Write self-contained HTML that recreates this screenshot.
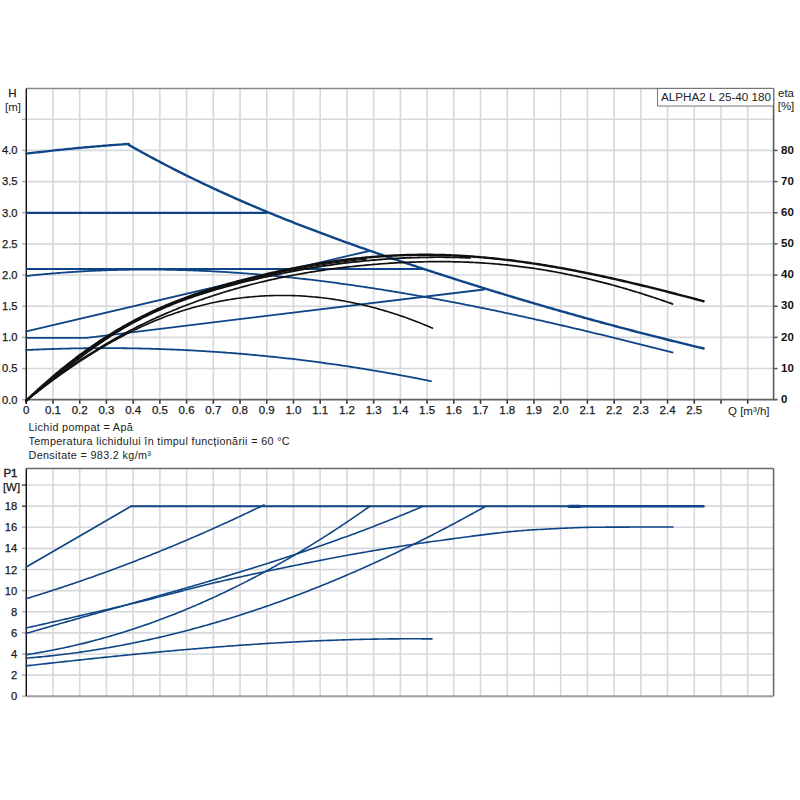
<!DOCTYPE html>
<html><head><meta charset="utf-8"><style>
html,body{margin:0;padding:0;background:#fff;}
svg{display:block;font-family:"Liberation Sans",sans-serif;}
</style></head><body>
<svg width="800" height="800" viewBox="0 0 800 800">
<rect width="800" height="800" fill="#fff"/>
<line x1="53.00" y1="88.50" x2="53.00" y2="399.70" stroke="#d6d8dc" stroke-width="1.6" stroke-linecap="butt"/>
<line x1="79.72" y1="88.50" x2="79.72" y2="399.70" stroke="#d6d8dc" stroke-width="1.6" stroke-linecap="butt"/>
<line x1="106.44" y1="88.50" x2="106.44" y2="399.70" stroke="#d6d8dc" stroke-width="1.6" stroke-linecap="butt"/>
<line x1="133.16" y1="88.50" x2="133.16" y2="399.70" stroke="#d6d8dc" stroke-width="1.6" stroke-linecap="butt"/>
<line x1="159.88" y1="88.50" x2="159.88" y2="399.70" stroke="#d6d8dc" stroke-width="1.6" stroke-linecap="butt"/>
<line x1="186.60" y1="88.50" x2="186.60" y2="399.70" stroke="#d6d8dc" stroke-width="1.6" stroke-linecap="butt"/>
<line x1="213.32" y1="88.50" x2="213.32" y2="399.70" stroke="#d6d8dc" stroke-width="1.6" stroke-linecap="butt"/>
<line x1="240.04" y1="88.50" x2="240.04" y2="399.70" stroke="#d6d8dc" stroke-width="1.6" stroke-linecap="butt"/>
<line x1="266.76" y1="88.50" x2="266.76" y2="399.70" stroke="#d6d8dc" stroke-width="1.6" stroke-linecap="butt"/>
<line x1="293.48" y1="88.50" x2="293.48" y2="399.70" stroke="#d6d8dc" stroke-width="1.6" stroke-linecap="butt"/>
<line x1="320.20" y1="88.50" x2="320.20" y2="399.70" stroke="#d6d8dc" stroke-width="1.6" stroke-linecap="butt"/>
<line x1="346.92" y1="88.50" x2="346.92" y2="399.70" stroke="#d6d8dc" stroke-width="1.6" stroke-linecap="butt"/>
<line x1="373.64" y1="88.50" x2="373.64" y2="399.70" stroke="#d6d8dc" stroke-width="1.6" stroke-linecap="butt"/>
<line x1="400.36" y1="88.50" x2="400.36" y2="399.70" stroke="#d6d8dc" stroke-width="1.6" stroke-linecap="butt"/>
<line x1="427.08" y1="88.50" x2="427.08" y2="399.70" stroke="#d6d8dc" stroke-width="1.6" stroke-linecap="butt"/>
<line x1="453.80" y1="88.50" x2="453.80" y2="399.70" stroke="#d6d8dc" stroke-width="1.6" stroke-linecap="butt"/>
<line x1="480.52" y1="88.50" x2="480.52" y2="399.70" stroke="#d6d8dc" stroke-width="1.6" stroke-linecap="butt"/>
<line x1="507.24" y1="88.50" x2="507.24" y2="399.70" stroke="#d6d8dc" stroke-width="1.6" stroke-linecap="butt"/>
<line x1="533.96" y1="88.50" x2="533.96" y2="399.70" stroke="#d6d8dc" stroke-width="1.6" stroke-linecap="butt"/>
<line x1="560.68" y1="88.50" x2="560.68" y2="399.70" stroke="#d6d8dc" stroke-width="1.6" stroke-linecap="butt"/>
<line x1="587.40" y1="88.50" x2="587.40" y2="399.70" stroke="#d6d8dc" stroke-width="1.6" stroke-linecap="butt"/>
<line x1="614.12" y1="88.50" x2="614.12" y2="399.70" stroke="#d6d8dc" stroke-width="1.6" stroke-linecap="butt"/>
<line x1="640.84" y1="88.50" x2="640.84" y2="399.70" stroke="#d6d8dc" stroke-width="1.6" stroke-linecap="butt"/>
<line x1="667.56" y1="88.50" x2="667.56" y2="399.70" stroke="#d6d8dc" stroke-width="1.6" stroke-linecap="butt"/>
<line x1="694.28" y1="88.50" x2="694.28" y2="399.70" stroke="#d6d8dc" stroke-width="1.6" stroke-linecap="butt"/>
<line x1="721.00" y1="88.50" x2="721.00" y2="399.70" stroke="#d6d8dc" stroke-width="1.6" stroke-linecap="butt"/>
<line x1="747.72" y1="88.50" x2="747.72" y2="399.70" stroke="#d6d8dc" stroke-width="1.6" stroke-linecap="butt"/>
<line x1="26.28" y1="368.54" x2="773.60" y2="368.54" stroke="#d6d8dc" stroke-width="1.6" stroke-linecap="butt"/>
<line x1="26.28" y1="337.38" x2="773.60" y2="337.38" stroke="#d6d8dc" stroke-width="1.6" stroke-linecap="butt"/>
<line x1="26.28" y1="306.22" x2="773.60" y2="306.22" stroke="#d6d8dc" stroke-width="1.6" stroke-linecap="butt"/>
<line x1="26.28" y1="275.06" x2="773.60" y2="275.06" stroke="#d6d8dc" stroke-width="1.6" stroke-linecap="butt"/>
<line x1="26.28" y1="243.90" x2="773.60" y2="243.90" stroke="#d6d8dc" stroke-width="1.6" stroke-linecap="butt"/>
<line x1="26.28" y1="212.74" x2="773.60" y2="212.74" stroke="#d6d8dc" stroke-width="1.6" stroke-linecap="butt"/>
<line x1="26.28" y1="181.58" x2="773.60" y2="181.58" stroke="#d6d8dc" stroke-width="1.6" stroke-linecap="butt"/>
<line x1="26.28" y1="150.42" x2="773.60" y2="150.42" stroke="#d6d8dc" stroke-width="1.6" stroke-linecap="butt"/>
<line x1="26.28" y1="119.26" x2="773.60" y2="119.26" stroke="#d6d8dc" stroke-width="1.6" stroke-linecap="butt"/>
<line x1="22.00" y1="368.54" x2="26.28" y2="368.54" stroke="#aaa" stroke-width="1.3" stroke-linecap="butt"/>
<line x1="22.00" y1="337.38" x2="26.28" y2="337.38" stroke="#aaa" stroke-width="1.3" stroke-linecap="butt"/>
<line x1="22.00" y1="306.22" x2="26.28" y2="306.22" stroke="#aaa" stroke-width="1.3" stroke-linecap="butt"/>
<line x1="22.00" y1="275.06" x2="26.28" y2="275.06" stroke="#aaa" stroke-width="1.3" stroke-linecap="butt"/>
<line x1="22.00" y1="243.90" x2="26.28" y2="243.90" stroke="#aaa" stroke-width="1.3" stroke-linecap="butt"/>
<line x1="22.00" y1="212.74" x2="26.28" y2="212.74" stroke="#aaa" stroke-width="1.3" stroke-linecap="butt"/>
<line x1="22.00" y1="181.58" x2="26.28" y2="181.58" stroke="#aaa" stroke-width="1.3" stroke-linecap="butt"/>
<line x1="22.00" y1="150.42" x2="26.28" y2="150.42" stroke="#aaa" stroke-width="1.3" stroke-linecap="butt"/>
<line x1="22.00" y1="119.26" x2="26.28" y2="119.26" stroke="#aaa" stroke-width="1.3" stroke-linecap="butt"/>
<line x1="773.60" y1="368.54" x2="777.60" y2="368.54" stroke="#555" stroke-width="1.5" stroke-linecap="butt"/>
<line x1="773.60" y1="337.38" x2="777.60" y2="337.38" stroke="#555" stroke-width="1.5" stroke-linecap="butt"/>
<line x1="773.60" y1="306.22" x2="777.60" y2="306.22" stroke="#555" stroke-width="1.5" stroke-linecap="butt"/>
<line x1="773.60" y1="275.06" x2="777.60" y2="275.06" stroke="#555" stroke-width="1.5" stroke-linecap="butt"/>
<line x1="773.60" y1="243.90" x2="777.60" y2="243.90" stroke="#555" stroke-width="1.5" stroke-linecap="butt"/>
<line x1="773.60" y1="212.74" x2="777.60" y2="212.74" stroke="#555" stroke-width="1.5" stroke-linecap="butt"/>
<line x1="773.60" y1="181.58" x2="777.60" y2="181.58" stroke="#555" stroke-width="1.5" stroke-linecap="butt"/>
<line x1="773.60" y1="150.42" x2="777.60" y2="150.42" stroke="#555" stroke-width="1.5" stroke-linecap="butt"/>
<line x1="26.28" y1="399.70" x2="26.28" y2="403.70" stroke="#333" stroke-width="1.6" stroke-linecap="butt"/>
<line x1="53.00" y1="399.70" x2="53.00" y2="403.70" stroke="#333" stroke-width="1.6" stroke-linecap="butt"/>
<line x1="79.72" y1="399.70" x2="79.72" y2="403.70" stroke="#333" stroke-width="1.6" stroke-linecap="butt"/>
<line x1="106.44" y1="399.70" x2="106.44" y2="403.70" stroke="#333" stroke-width="1.6" stroke-linecap="butt"/>
<line x1="133.16" y1="399.70" x2="133.16" y2="403.70" stroke="#333" stroke-width="1.6" stroke-linecap="butt"/>
<line x1="159.88" y1="399.70" x2="159.88" y2="403.70" stroke="#333" stroke-width="1.6" stroke-linecap="butt"/>
<line x1="186.60" y1="399.70" x2="186.60" y2="403.70" stroke="#333" stroke-width="1.6" stroke-linecap="butt"/>
<line x1="213.32" y1="399.70" x2="213.32" y2="403.70" stroke="#333" stroke-width="1.6" stroke-linecap="butt"/>
<line x1="240.04" y1="399.70" x2="240.04" y2="403.70" stroke="#333" stroke-width="1.6" stroke-linecap="butt"/>
<line x1="266.76" y1="399.70" x2="266.76" y2="403.70" stroke="#333" stroke-width="1.6" stroke-linecap="butt"/>
<line x1="293.48" y1="399.70" x2="293.48" y2="403.70" stroke="#333" stroke-width="1.6" stroke-linecap="butt"/>
<line x1="320.20" y1="399.70" x2="320.20" y2="403.70" stroke="#333" stroke-width="1.6" stroke-linecap="butt"/>
<line x1="346.92" y1="399.70" x2="346.92" y2="403.70" stroke="#333" stroke-width="1.6" stroke-linecap="butt"/>
<line x1="373.64" y1="399.70" x2="373.64" y2="403.70" stroke="#333" stroke-width="1.6" stroke-linecap="butt"/>
<line x1="400.36" y1="399.70" x2="400.36" y2="403.70" stroke="#333" stroke-width="1.6" stroke-linecap="butt"/>
<line x1="427.08" y1="399.70" x2="427.08" y2="403.70" stroke="#333" stroke-width="1.6" stroke-linecap="butt"/>
<line x1="453.80" y1="399.70" x2="453.80" y2="403.70" stroke="#333" stroke-width="1.6" stroke-linecap="butt"/>
<line x1="480.52" y1="399.70" x2="480.52" y2="403.70" stroke="#333" stroke-width="1.6" stroke-linecap="butt"/>
<line x1="507.24" y1="399.70" x2="507.24" y2="403.70" stroke="#333" stroke-width="1.6" stroke-linecap="butt"/>
<line x1="533.96" y1="399.70" x2="533.96" y2="403.70" stroke="#333" stroke-width="1.6" stroke-linecap="butt"/>
<line x1="560.68" y1="399.70" x2="560.68" y2="403.70" stroke="#333" stroke-width="1.6" stroke-linecap="butt"/>
<line x1="587.40" y1="399.70" x2="587.40" y2="403.70" stroke="#333" stroke-width="1.6" stroke-linecap="butt"/>
<line x1="614.12" y1="399.70" x2="614.12" y2="403.70" stroke="#333" stroke-width="1.6" stroke-linecap="butt"/>
<line x1="640.84" y1="399.70" x2="640.84" y2="403.70" stroke="#333" stroke-width="1.6" stroke-linecap="butt"/>
<line x1="667.56" y1="399.70" x2="667.56" y2="403.70" stroke="#333" stroke-width="1.6" stroke-linecap="butt"/>
<line x1="694.28" y1="399.70" x2="694.28" y2="403.70" stroke="#333" stroke-width="1.6" stroke-linecap="butt"/>
<line x1="721.00" y1="399.70" x2="721.00" y2="403.70" stroke="#333" stroke-width="1.6" stroke-linecap="butt"/>
<line x1="747.72" y1="399.70" x2="747.72" y2="403.70" stroke="#333" stroke-width="1.6" stroke-linecap="butt"/>
<line x1="22.00" y1="399.70" x2="26.28" y2="399.70" stroke="#aaa" stroke-width="1.3" stroke-linecap="butt"/>
<line x1="26.28" y1="88.50" x2="773.60" y2="88.50" stroke="#8a8a8a" stroke-width="1.6" stroke-linecap="butt"/>
<line x1="773.60" y1="88.50" x2="773.60" y2="399.70" stroke="#5a5a5a" stroke-width="1.6" stroke-linecap="butt"/>
<line x1="26.28" y1="399.70" x2="777.60" y2="399.70" stroke="#5f5f5f" stroke-width="1.8" stroke-linecap="butt"/>
<line x1="26.28" y1="88.50" x2="26.28" y2="403.70" stroke="#111" stroke-width="1.4" stroke-linecap="butt"/>
<text x="17.50" y="403.50" text-anchor="end" font-size="11.2" font-weight="normal" fill="#1a1a1a" stroke="#1a1a1a" stroke-width="0.25">0.0</text>
<text x="17.50" y="372.34" text-anchor="end" font-size="11.2" font-weight="normal" fill="#1a1a1a" stroke="#1a1a1a" stroke-width="0.25">0.5</text>
<text x="17.50" y="341.18" text-anchor="end" font-size="11.2" font-weight="normal" fill="#1a1a1a" stroke="#1a1a1a" stroke-width="0.25">1.0</text>
<text x="17.50" y="310.02" text-anchor="end" font-size="11.2" font-weight="normal" fill="#1a1a1a" stroke="#1a1a1a" stroke-width="0.25">1.5</text>
<text x="17.50" y="278.86" text-anchor="end" font-size="11.2" font-weight="normal" fill="#1a1a1a" stroke="#1a1a1a" stroke-width="0.25">2.0</text>
<text x="17.50" y="247.70" text-anchor="end" font-size="11.2" font-weight="normal" fill="#1a1a1a" stroke="#1a1a1a" stroke-width="0.25">2.5</text>
<text x="17.50" y="216.54" text-anchor="end" font-size="11.2" font-weight="normal" fill="#1a1a1a" stroke="#1a1a1a" stroke-width="0.25">3.0</text>
<text x="17.50" y="185.38" text-anchor="end" font-size="11.2" font-weight="normal" fill="#1a1a1a" stroke="#1a1a1a" stroke-width="0.25">3.5</text>
<text x="17.50" y="154.22" text-anchor="end" font-size="11.2" font-weight="normal" fill="#1a1a1a" stroke="#1a1a1a" stroke-width="0.25">4.0</text>
<text x="781.00" y="402.90" text-anchor="start" font-size="11.5" font-weight="bold" fill="#111" >0</text>
<text x="781.00" y="371.74" text-anchor="start" font-size="11.5" font-weight="bold" fill="#111" >10</text>
<text x="781.00" y="340.58" text-anchor="start" font-size="11.5" font-weight="bold" fill="#111" >20</text>
<text x="781.00" y="309.42" text-anchor="start" font-size="11.5" font-weight="bold" fill="#111" >30</text>
<text x="781.00" y="278.26" text-anchor="start" font-size="11.5" font-weight="bold" fill="#111" >40</text>
<text x="781.00" y="247.10" text-anchor="start" font-size="11.5" font-weight="bold" fill="#111" >50</text>
<text x="781.00" y="215.94" text-anchor="start" font-size="11.5" font-weight="bold" fill="#111" >60</text>
<text x="781.00" y="184.78" text-anchor="start" font-size="11.5" font-weight="bold" fill="#111" >70</text>
<text x="781.00" y="153.62" text-anchor="start" font-size="11.5" font-weight="bold" fill="#111" >80</text>
<text x="26.28" y="414.20" text-anchor="middle" font-size="11.5" font-weight="normal" fill="#1a1a1a" stroke="#1a1a1a" stroke-width="0.25">0</text>
<text x="53.00" y="414.20" text-anchor="middle" font-size="11.5" font-weight="normal" fill="#1a1a1a" stroke="#1a1a1a" stroke-width="0.25">0.1</text>
<text x="79.72" y="414.20" text-anchor="middle" font-size="11.5" font-weight="normal" fill="#1a1a1a" stroke="#1a1a1a" stroke-width="0.25">0.2</text>
<text x="106.44" y="414.20" text-anchor="middle" font-size="11.5" font-weight="normal" fill="#1a1a1a" stroke="#1a1a1a" stroke-width="0.25">0.3</text>
<text x="133.16" y="414.20" text-anchor="middle" font-size="11.5" font-weight="normal" fill="#1a1a1a" stroke="#1a1a1a" stroke-width="0.25">0.4</text>
<text x="159.88" y="414.20" text-anchor="middle" font-size="11.5" font-weight="normal" fill="#1a1a1a" stroke="#1a1a1a" stroke-width="0.25">0.5</text>
<text x="186.60" y="414.20" text-anchor="middle" font-size="11.5" font-weight="normal" fill="#1a1a1a" stroke="#1a1a1a" stroke-width="0.25">0.6</text>
<text x="213.32" y="414.20" text-anchor="middle" font-size="11.5" font-weight="normal" fill="#1a1a1a" stroke="#1a1a1a" stroke-width="0.25">0.7</text>
<text x="240.04" y="414.20" text-anchor="middle" font-size="11.5" font-weight="normal" fill="#1a1a1a" stroke="#1a1a1a" stroke-width="0.25">0.8</text>
<text x="266.76" y="414.20" text-anchor="middle" font-size="11.5" font-weight="normal" fill="#1a1a1a" stroke="#1a1a1a" stroke-width="0.25">0.9</text>
<text x="293.48" y="414.20" text-anchor="middle" font-size="11.5" font-weight="normal" fill="#1a1a1a" stroke="#1a1a1a" stroke-width="0.25">1.0</text>
<text x="320.20" y="414.20" text-anchor="middle" font-size="11.5" font-weight="normal" fill="#1a1a1a" stroke="#1a1a1a" stroke-width="0.25">1.1</text>
<text x="346.92" y="414.20" text-anchor="middle" font-size="11.5" font-weight="normal" fill="#1a1a1a" stroke="#1a1a1a" stroke-width="0.25">1.2</text>
<text x="373.64" y="414.20" text-anchor="middle" font-size="11.5" font-weight="normal" fill="#1a1a1a" stroke="#1a1a1a" stroke-width="0.25">1.3</text>
<text x="400.36" y="414.20" text-anchor="middle" font-size="11.5" font-weight="normal" fill="#1a1a1a" stroke="#1a1a1a" stroke-width="0.25">1.4</text>
<text x="427.08" y="414.20" text-anchor="middle" font-size="11.5" font-weight="normal" fill="#1a1a1a" stroke="#1a1a1a" stroke-width="0.25">1.5</text>
<text x="453.80" y="414.20" text-anchor="middle" font-size="11.5" font-weight="normal" fill="#1a1a1a" stroke="#1a1a1a" stroke-width="0.25">1.6</text>
<text x="480.52" y="414.20" text-anchor="middle" font-size="11.5" font-weight="normal" fill="#1a1a1a" stroke="#1a1a1a" stroke-width="0.25">1.7</text>
<text x="507.24" y="414.20" text-anchor="middle" font-size="11.5" font-weight="normal" fill="#1a1a1a" stroke="#1a1a1a" stroke-width="0.25">1.8</text>
<text x="533.96" y="414.20" text-anchor="middle" font-size="11.5" font-weight="normal" fill="#1a1a1a" stroke="#1a1a1a" stroke-width="0.25">1.9</text>
<text x="560.68" y="414.20" text-anchor="middle" font-size="11.5" font-weight="normal" fill="#1a1a1a" stroke="#1a1a1a" stroke-width="0.25">2.0</text>
<text x="587.40" y="414.20" text-anchor="middle" font-size="11.5" font-weight="normal" fill="#1a1a1a" stroke="#1a1a1a" stroke-width="0.25">2.1</text>
<text x="614.12" y="414.20" text-anchor="middle" font-size="11.5" font-weight="normal" fill="#1a1a1a" stroke="#1a1a1a" stroke-width="0.25">2.2</text>
<text x="640.84" y="414.20" text-anchor="middle" font-size="11.5" font-weight="normal" fill="#1a1a1a" stroke="#1a1a1a" stroke-width="0.25">2.3</text>
<text x="667.56" y="414.20" text-anchor="middle" font-size="11.5" font-weight="normal" fill="#1a1a1a" stroke="#1a1a1a" stroke-width="0.25">2.4</text>
<text x="694.28" y="414.20" text-anchor="middle" font-size="11.5" font-weight="normal" fill="#1a1a1a" stroke="#1a1a1a" stroke-width="0.25">2.5</text>
<text x="728.00" y="415.00" text-anchor="start" font-size="11.5" font-weight="normal" fill="#222" >Q [m&#179;/h]</text>
<text x="12.50" y="96.50" text-anchor="middle" font-size="11.5" font-weight="normal" fill="#1a1a1a" stroke="#1a1a1a" stroke-width="0.25">H</text>
<text x="13.00" y="110.50" text-anchor="middle" font-size="11.5" font-weight="normal" fill="#222" >[m]</text>
<text x="786.00" y="96.50" text-anchor="middle" font-size="11.5" font-weight="normal" fill="#222" >eta</text>
<text x="786.00" y="110.00" text-anchor="middle" font-size="11.5" font-weight="normal" fill="#222" >[%]</text>
<rect x="657.5" y="88.5" width="116" height="17.5" fill="#fff" stroke="#777" stroke-width="1"/>
<text x="661.00" y="100.70" text-anchor="start" font-size="11.7" font-weight="normal" fill="#222" >ALPHA2 L 25-40 180</text>
<path d="M26.28 153.69 L28.28 153.44 L30.28 153.19 L32.28 152.95 L34.28 152.71 L36.28 152.48 L38.28 152.24 L40.28 152.01 L42.28 151.78 L44.28 151.55 L46.28 151.32 L48.28 151.10 L50.28 150.88 L52.28 150.66 L54.28 150.44 L56.28 150.22 L58.28 150.01 L60.28 149.80 L62.28 149.59 L64.28 149.39 L66.28 149.18 L68.28 148.98 L70.28 148.78 L72.28 148.59 L74.28 148.39 L76.28 148.20 L78.28 148.01 L80.28 147.82 L82.28 147.64 L84.28 147.45 L86.28 147.27 L88.28 147.09 L90.28 146.91 L92.28 146.74 L94.28 146.57 L96.28 146.40 L98.28 146.23 L100.28 146.07 L102.28 145.90 L104.28 145.74 L106.28 145.58 L108.28 145.43 L110.28 145.27 L112.28 145.12 L114.28 144.97 L116.28 144.82 L118.28 144.68 L120.28 144.53 L122.28 144.39 L124.28 144.26 L126.28 144.12 L128.28 143.99 L128.75 143.95" fill="none" stroke="#0f4586" stroke-width="2.3" stroke-linejoin="round" stroke-linecap="round"/>
<path d="M128.75 144.88 L130.75 146.01 L132.75 147.14 L134.75 148.26 L136.75 149.38 L138.75 150.49 L140.75 151.59 L142.75 152.69 L144.75 153.78 L146.75 154.87 L148.75 155.96 L150.75 157.03 L152.75 158.11 L154.75 159.17 L156.75 160.24 L158.75 161.30 L160.75 162.35 L162.75 163.40 L164.75 164.44 L166.75 165.48 L168.75 166.51 L170.75 167.54 L172.75 168.56 L174.75 169.58 L176.75 170.59 L178.75 171.60 L180.75 172.60 L182.75 173.60 L184.75 174.60 L186.75 175.59 L188.75 176.57 L190.75 177.55 L192.75 178.53 L194.75 179.50 L196.75 180.47 L198.75 181.43 L200.75 182.39 L202.75 183.35 L204.75 184.30 L206.75 185.24 L208.75 186.18 L210.75 187.12 L212.75 188.05 L214.75 188.98 L216.75 189.90 L218.75 190.82 L220.75 191.74 L222.75 192.65 L224.75 193.56 L226.75 194.46 L228.75 195.36 L230.75 196.26 L232.75 197.15 L234.75 198.04 L236.75 198.92 L238.75 199.80 L240.75 200.68 L242.75 201.55 L244.75 202.42 L246.75 203.29 L248.75 204.15 L250.75 205.01 L252.75 205.86 L254.75 206.71 L256.75 207.56 L258.75 208.40 L260.75 209.24 L262.75 210.08 L264.75 210.91 L266.75 211.74 L268.75 212.57 L270.75 213.39 L272.75 214.21 L274.75 215.03 L276.75 215.84 L278.75 216.65 L280.75 217.46 L282.75 218.27 L284.75 219.07 L286.75 219.87 L288.75 220.66 L290.75 221.45 L292.75 222.24 L294.75 223.03 L296.75 223.81 L298.75 224.59 L300.75 225.37 L302.75 226.14 L304.75 226.91 L306.75 227.68 L308.75 228.45 L310.75 229.21 L312.75 229.97 L314.75 230.73 L316.75 231.49 L318.75 232.24 L320.75 232.99 L322.75 233.74 L324.75 234.48 L326.75 235.23 L328.75 235.97 L330.75 236.70 L332.75 237.44 L334.75 238.17 L336.75 238.90 L338.75 239.63 L340.75 240.36 L342.75 241.09 L344.75 241.81 L346.75 242.53 L348.75 243.25 L350.75 243.96 L352.75 244.68 L354.75 245.39 L356.75 246.10 L358.75 246.81 L360.75 247.51 L362.75 248.22 L364.75 248.92 L366.75 249.62 L368.75 250.32 L370.75 251.01 L372.75 251.71 L374.75 252.40 L376.75 253.09 L378.75 253.79 L380.75 254.47 L382.75 255.16 L384.75 255.85 L386.75 256.53 L388.75 257.21 L390.75 257.89 L392.75 258.57 L394.75 259.25 L396.75 259.93 L398.75 260.60 L400.75 261.28 L402.75 261.95 L404.75 262.62 L406.75 263.29 L408.75 263.96 L410.75 264.63 L412.75 265.30 L414.75 265.96 L416.75 266.63 L418.75 267.29 L420.75 267.95 L422.75 268.61 L424.75 269.27 L426.75 269.93 L428.75 270.58 L430.75 271.24 L432.75 271.89 L434.75 272.55 L436.75 273.20 L438.75 273.85 L440.75 274.50 L442.75 275.14 L444.75 275.79 L446.75 276.43 L448.75 277.08 L450.75 277.72 L452.75 278.36 L454.75 279.00 L456.75 279.64 L458.75 280.28 L460.75 280.91 L462.75 281.55 L464.75 282.18 L466.75 282.81 L468.75 283.44 L470.75 284.07 L472.75 284.70 L474.75 285.33 L476.75 285.95 L478.75 286.58 L480.75 287.20 L482.75 287.82 L484.75 288.44 L486.75 289.06 L488.75 289.68 L490.75 290.30 L492.75 290.91 L494.75 291.53 L496.75 292.14 L498.75 292.75 L500.75 293.36 L502.75 293.97 L504.75 294.58 L506.75 295.18 L508.75 295.79 L510.75 296.39 L512.75 297.00 L514.75 297.60 L516.75 298.20 L518.75 298.80 L520.75 299.39 L522.75 299.99 L524.75 300.58 L526.75 301.18 L528.75 301.77 L530.75 302.36 L532.75 302.95 L534.75 303.54 L536.75 304.12 L538.75 304.71 L540.75 305.29 L542.75 305.88 L544.75 306.46 L546.75 307.04 L548.75 307.62 L550.75 308.20 L552.75 308.77 L554.75 309.35 L556.75 309.92 L558.75 310.49 L560.75 311.06 L562.75 311.63 L564.75 312.20 L566.75 312.77 L568.75 313.34 L570.75 313.90 L572.75 314.47 L574.75 315.03 L576.75 315.59 L578.75 316.15 L580.75 316.71 L582.75 317.26 L584.75 317.82 L586.75 318.37 L588.75 318.93 L590.75 319.48 L592.75 320.03 L594.75 320.58 L596.75 321.12 L598.75 321.67 L600.75 322.22 L602.75 322.76 L604.75 323.30 L606.75 323.84 L608.75 324.38 L610.75 324.92 L612.75 325.46 L614.75 326.00 L616.75 326.53 L618.75 327.06 L620.75 327.60 L622.75 328.13 L624.75 328.66 L626.75 329.18 L628.75 329.71 L630.75 330.24 L632.75 330.76 L634.75 331.28 L636.75 331.80 L638.75 332.32 L640.75 332.84 L642.75 333.36 L644.75 333.88 L646.75 334.39 L648.75 334.90 L650.75 335.42 L652.75 335.93 L654.75 336.44 L656.75 336.95 L658.75 337.45 L660.75 337.96 L662.75 338.46 L664.75 338.97 L666.75 339.47 L668.75 339.97 L670.75 340.47 L672.75 340.96 L674.75 341.46 L676.75 341.96 L678.75 342.45 L680.75 342.94 L682.75 343.43 L684.75 343.92 L686.75 344.41 L688.75 344.90 L690.75 345.38 L692.75 345.87 L694.75 346.35 L696.75 346.83 L698.75 347.31 L700.75 347.79 L702.75 348.27 L703.60 348.47" fill="none" stroke="#0f4586" stroke-width="2.4" stroke-linejoin="round" stroke-linecap="round"/>
<line x1="26.28" y1="212.90" x2="267.10" y2="212.90" stroke="#0f4586" stroke-width="2.2" stroke-linecap="butt"/>
<line x1="26.28" y1="269.00" x2="423.00" y2="269.00" stroke="#0f4586" stroke-width="2.1" stroke-linecap="butt"/>
<path d="M26.28 275.99 L28.28 275.78 L30.28 275.56 L32.28 275.36 L34.28 275.15 L36.28 274.95 L38.28 274.75 L40.28 274.56 L42.28 274.37 L44.28 274.18 L46.28 274.00 L48.28 273.82 L50.28 273.65 L52.28 273.48 L54.28 273.31 L56.28 273.15 L58.28 272.99 L60.28 272.83 L62.28 272.68 L64.28 272.54 L66.28 272.39 L68.28 272.25 L70.28 272.11 L72.28 271.98 L74.28 271.85 L76.28 271.73 L78.28 271.61 L80.28 271.49 L82.28 271.37 L84.28 271.26 L86.28 271.16 L88.28 271.05 L90.28 270.95 L92.28 270.86 L94.28 270.76 L96.28 270.67 L98.28 270.59 L100.28 270.51 L102.28 270.43 L104.28 270.35 L106.28 270.28 L108.28 270.22 L110.28 270.15 L112.28 270.09 L114.28 270.03 L116.28 269.98 L118.28 269.93 L120.28 269.88 L122.28 269.84 L124.28 269.80 L126.28 269.76 L128.28 269.73 L130.28 269.70 L132.28 269.68 L134.28 269.65 L136.28 269.63 L138.28 269.62 L140.28 269.61 L142.28 269.60 L144.28 269.59 L146.28 269.59 L148.28 269.59 L150.28 269.59 L152.28 269.60 L154.28 269.61 L156.28 269.62 L158.28 269.64 L160.28 269.66 L162.28 269.69 L164.28 269.71 L166.28 269.74 L168.28 269.78 L170.28 269.81 L172.28 269.85 L174.28 269.90 L176.28 269.94 L178.28 269.99 L180.28 270.04 L182.28 270.10 L184.28 270.16 L186.28 270.22 L188.28 270.28 L190.28 270.35 L192.28 270.42 L194.28 270.50 L196.28 270.57 L198.28 270.65 L200.28 270.74 L202.28 270.82 L204.28 270.91 L206.28 271.01 L208.28 271.10 L210.28 271.20 L212.28 271.30 L214.28 271.41 L216.28 271.51 L218.28 271.62 L220.28 271.74 L222.28 271.85 L224.28 271.97 L226.28 272.09 L228.28 272.22 L230.28 272.35 L232.28 272.48 L234.28 272.61 L236.28 272.75 L238.28 272.89 L240.28 273.03 L242.28 273.17 L244.28 273.32 L246.28 273.47 L248.28 273.63 L250.28 273.78 L252.28 273.94 L254.28 274.10 L256.28 274.27 L258.28 274.43 L260.28 274.60 L262.28 274.78 L264.28 274.95 L266.28 275.13 L268.28 275.31 L270.28 275.49 L272.28 275.68 L274.28 275.87 L276.28 276.06 L278.28 276.25 L280.28 276.45 L282.28 276.65 L284.28 276.85 L286.28 277.06 L288.28 277.26 L290.28 277.47 L292.28 277.69 L294.28 277.90 L296.28 278.12 L298.28 278.34 L300.28 278.56 L302.28 278.79 L304.28 279.01 L306.28 279.24 L308.28 279.48 L310.28 279.71 L312.28 279.95 L314.28 280.19 L316.28 280.43 L318.28 280.67 L320.28 280.92 L322.28 281.17 L324.28 281.42 L326.28 281.68 L328.28 281.93 L330.28 282.19 L332.28 282.45 L334.28 282.72 L336.28 282.98 L338.28 283.25 L340.28 283.52 L342.28 283.79 L344.28 284.07 L346.28 284.35 L348.28 284.63 L350.28 284.91 L352.28 285.19 L354.28 285.48 L356.28 285.77 L358.28 286.06 L360.28 286.35 L362.28 286.65 L364.28 286.95 L366.28 287.25 L368.28 287.55 L370.28 287.85 L372.28 288.16 L374.28 288.47 L376.28 288.78 L378.28 289.09 L380.28 289.40 L382.28 289.72 L384.28 290.04 L386.28 290.36 L388.28 290.68 L390.28 291.01 L392.28 291.34 L394.28 291.67 L396.28 292.00 L398.28 292.33 L400.28 292.67 L402.28 293.00 L404.28 293.34 L406.28 293.68 L408.28 294.03 L410.28 294.37 L412.28 294.72 L414.28 295.07 L416.28 295.42 L418.28 295.77 L420.28 296.13 L422.28 296.48 L424.28 296.84 L426.28 297.20 L428.28 297.56 L430.28 297.93 L432.28 298.29 L434.28 298.66 L436.28 299.03 L438.28 299.40 L440.28 299.77 L442.28 300.15 L444.28 300.52 L446.28 300.90 L448.28 301.28 L450.28 301.67 L452.28 302.05 L454.28 302.43 L456.28 302.82 L458.28 303.21 L460.28 303.60 L462.28 303.99 L464.28 304.39 L466.28 304.78 L468.28 305.18 L470.28 305.58 L472.28 305.98 L474.28 306.38 L476.28 306.78 L478.28 307.19 L480.28 307.59 L482.28 308.00 L484.28 308.41 L486.28 308.82 L488.28 309.24 L490.28 309.65 L492.28 310.07 L494.28 310.48 L496.28 310.90 L498.28 311.32 L500.28 311.74 L502.28 312.17 L504.28 312.59 L506.28 313.02 L508.28 313.45 L510.28 313.88 L512.28 314.31 L514.28 314.74 L516.28 315.17 L518.28 315.61 L520.28 316.04 L522.28 316.48 L524.28 316.92 L526.28 317.36 L528.28 317.80 L530.28 318.24 L532.28 318.69 L534.28 319.13 L536.28 319.58 L538.28 320.03 L540.28 320.48 L542.28 320.93 L544.28 321.38 L546.28 321.83 L548.28 322.28 L550.28 322.74 L552.28 323.20 L554.28 323.65 L556.28 324.11 L558.28 324.57 L560.28 325.03 L562.28 325.50 L564.28 325.96 L566.28 326.43 L568.28 326.89 L570.28 327.36 L572.28 327.83 L574.28 328.30 L576.28 328.77 L578.28 329.24 L580.28 329.71 L582.28 330.18 L584.28 330.66 L586.28 331.13 L588.28 331.61 L590.28 332.09 L592.28 332.56 L594.28 333.04 L596.28 333.52 L598.28 334.01 L600.28 334.49 L602.28 334.97 L604.28 335.46 L606.28 335.94 L608.28 336.43 L610.28 336.91 L612.28 337.40 L614.28 337.89 L616.28 338.38 L618.28 338.87 L620.28 339.36 L622.28 339.85 L624.28 340.35 L626.28 340.84 L628.28 341.34 L630.28 341.83 L632.28 342.33 L634.28 342.82 L636.28 343.32 L638.28 343.82 L640.28 344.32 L642.28 344.82 L644.28 345.32 L646.28 345.82 L648.28 346.32 L650.28 346.83 L652.28 347.33 L654.28 347.83 L656.28 348.34 L658.28 348.84 L660.28 349.35 L662.28 349.86 L664.28 350.36 L666.28 350.87 L668.28 351.38 L670.28 351.89 L672.28 352.40 L672.60 352.48" fill="none" stroke="#0f4586" stroke-width="1.8" stroke-linejoin="round" stroke-linecap="round"/>
<line x1="26.28" y1="331.30" x2="369.00" y2="251.00" stroke="#0f4586" stroke-width="1.8" stroke-linecap="round"/>
<path d="M26.28 337.8 L86.5 337.8 L484 289.5" fill="none" stroke="#0f4586" stroke-width="1.8" stroke-linejoin="round" stroke-linecap="round"/>
<path d="M26.28 350.03 L28.28 349.94 L30.28 349.85 L32.28 349.75 L34.28 349.67 L36.28 349.58 L38.28 349.50 L40.28 349.42 L42.28 349.34 L44.28 349.26 L46.28 349.19 L48.28 349.12 L50.28 349.05 L52.28 348.99 L54.28 348.92 L56.28 348.86 L58.28 348.80 L60.28 348.75 L62.28 348.69 L64.28 348.64 L66.28 348.59 L68.28 348.55 L70.28 348.50 L72.28 348.46 L74.28 348.42 L76.28 348.39 L78.28 348.35 L80.28 348.32 L82.28 348.29 L84.28 348.26 L86.28 348.24 L88.28 348.22 L90.28 348.20 L92.28 348.18 L94.28 348.17 L96.28 348.15 L98.28 348.14 L100.28 348.14 L102.28 348.13 L104.28 348.13 L106.28 348.13 L108.28 348.13 L110.28 348.14 L112.28 348.15 L114.28 348.16 L116.28 348.17 L118.28 348.18 L120.28 348.20 L122.28 348.22 L124.28 348.24 L126.28 348.27 L128.28 348.29 L130.28 348.32 L132.28 348.36 L134.28 348.39 L136.28 348.43 L138.28 348.47 L140.28 348.51 L142.28 348.55 L144.28 348.60 L146.28 348.65 L148.28 348.70 L150.28 348.75 L152.28 348.81 L154.28 348.87 L156.28 348.93 L158.28 349.00 L160.28 349.06 L162.28 349.13 L164.28 349.20 L166.28 349.28 L168.28 349.35 L170.28 349.43 L172.28 349.51 L174.28 349.60 L176.28 349.68 L178.28 349.77 L180.28 349.86 L182.28 349.96 L184.28 350.05 L186.28 350.15 L188.28 350.25 L190.28 350.36 L192.28 350.46 L194.28 350.57 L196.28 350.68 L198.28 350.80 L200.28 350.91 L202.28 351.03 L204.28 351.15 L206.28 351.28 L208.28 351.40 L210.28 351.53 L212.28 351.66 L214.28 351.80 L216.28 351.93 L218.28 352.07 L220.28 352.21 L222.28 352.36 L224.28 352.50 L226.28 352.65 L228.28 352.80 L230.28 352.96 L232.28 353.11 L234.28 353.27 L236.28 353.43 L238.28 353.59 L240.28 353.76 L242.28 353.93 L244.28 354.10 L246.28 354.27 L248.28 354.45 L250.28 354.63 L252.28 354.81 L254.28 354.99 L256.28 355.18 L258.28 355.37 L260.28 355.56 L262.28 355.75 L264.28 355.95 L266.28 356.15 L268.28 356.35 L270.28 356.55 L272.28 356.76 L274.28 356.97 L276.28 357.18 L278.28 357.39 L280.28 357.61 L282.28 357.83 L284.28 358.05 L286.28 358.27 L288.28 358.50 L290.28 358.73 L292.28 358.96 L294.28 359.19 L296.28 359.43 L298.28 359.67 L300.28 359.91 L302.28 360.15 L304.28 360.40 L306.28 360.65 L308.28 360.90 L310.28 361.15 L312.28 361.41 L314.28 361.67 L316.28 361.93 L318.28 362.19 L320.28 362.46 L322.28 362.73 L324.28 363.00 L326.28 363.27 L328.28 363.55 L330.28 363.83 L332.28 364.11 L334.28 364.40 L336.28 364.68 L338.28 364.97 L340.28 365.26 L342.28 365.56 L344.28 365.86 L346.28 366.16 L348.28 366.46 L350.28 366.76 L352.28 367.07 L354.28 367.38 L356.28 367.69 L358.28 368.01 L360.28 368.32 L362.28 368.64 L364.28 368.97 L366.28 369.29 L368.28 369.62 L370.28 369.95 L372.28 370.28 L374.28 370.62 L376.28 370.95 L378.28 371.29 L380.28 371.64 L382.28 371.98 L384.28 372.33 L386.28 372.68 L388.28 373.03 L390.28 373.39 L392.28 373.75 L394.28 374.11 L396.28 374.47 L398.28 374.84 L400.28 375.20 L402.28 375.58 L404.28 375.95 L406.28 376.32 L408.28 376.70 L410.28 377.08 L412.28 377.47 L414.28 377.85 L416.28 378.24 L418.28 378.63 L420.28 379.03 L422.28 379.42 L424.28 379.82 L426.28 380.23 L428.28 380.63 L430.28 381.04 L431.00 381.18" fill="none" stroke="#0f4586" stroke-width="1.8" stroke-linejoin="round" stroke-linecap="round"/>
<path d="M26.28 400.63 L28.28 399.04 L30.28 397.46 L32.28 395.88 L34.28 394.32 L36.28 392.76 L38.28 391.21 L40.28 389.68 L42.28 388.15 L44.28 386.63 L46.28 385.13 L48.28 383.63 L50.28 382.14 L52.28 380.67 L54.28 379.20 L56.28 377.75 L58.28 376.30 L60.28 374.87 L62.28 373.44 L64.28 372.03 L66.28 370.63 L68.28 369.24 L70.28 367.86 L72.28 366.50 L74.28 365.14 L76.28 363.80 L78.28 362.46 L80.28 361.14 L82.28 359.83 L84.28 358.53 L86.28 357.25 L88.28 355.97 L90.28 354.71 L92.28 353.46 L94.28 352.23 L96.28 351.00 L98.28 349.79 L100.28 348.59 L102.28 347.40 L104.28 346.22 L106.28 345.06 L108.28 343.91 L110.28 342.77 L112.28 341.65 L114.28 340.54 L116.28 339.44 L118.28 338.35 L120.28 337.28 L122.28 336.22 L124.28 335.17 L126.28 334.14 L128.28 333.12 L130.28 332.11 L132.28 331.12 L134.28 330.14 L136.28 329.17 L138.28 328.22 L140.28 327.28 L142.28 326.36 L144.28 325.45 L146.28 324.55 L148.28 323.67 L150.28 322.80 L152.28 321.94 L154.28 321.10 L156.28 320.27 L158.28 319.46 L160.28 318.66 L162.28 317.88 L164.28 317.11 L166.28 316.36 L168.28 315.61 L170.28 314.89 L172.28 314.18 L174.28 313.48 L176.28 312.79 L178.28 312.12 L180.28 311.47 L182.28 310.83 L184.28 310.20 L186.28 309.58 L188.28 308.98 L190.28 308.40 L192.28 307.82 L194.28 307.26 L196.28 306.72 L198.28 306.18 L200.28 305.67 L202.28 305.16 L204.28 304.67 L206.28 304.19 L208.28 303.73 L210.28 303.27 L212.28 302.83 L214.28 302.41 L216.28 302.00 L218.28 301.60 L220.28 301.21 L222.28 300.84 L224.28 300.48 L226.28 300.13 L228.28 299.79 L230.28 299.47 L232.28 299.16 L234.28 298.87 L236.28 298.58 L238.28 298.31 L240.28 298.05 L242.28 297.81 L244.28 297.57 L246.28 297.35 L248.28 297.14 L250.28 296.95 L252.28 296.76 L254.28 296.59 L256.28 296.43 L258.28 296.28 L260.28 296.14 L262.28 296.02 L264.28 295.91 L266.28 295.81 L268.28 295.72 L270.28 295.64 L272.28 295.58 L274.28 295.53 L276.28 295.49 L278.28 295.46 L280.28 295.44 L282.28 295.43 L284.28 295.44 L286.28 295.46 L288.28 295.49 L290.28 295.53 L292.28 295.58 L294.28 295.65 L296.28 295.73 L298.28 295.82 L300.28 295.92 L302.28 296.03 L304.28 296.15 L306.28 296.29 L308.28 296.43 L310.28 296.59 L312.28 296.76 L314.28 296.95 L316.28 297.14 L318.28 297.35 L320.28 297.56 L322.28 297.79 L324.28 298.03 L326.28 298.29 L328.28 298.55 L330.28 298.82 L332.28 299.11 L334.28 299.41 L336.28 299.72 L338.28 300.04 L340.28 300.37 L342.28 300.72 L344.28 301.08 L346.28 301.44 L348.28 301.82 L350.28 302.21 L352.28 302.62 L354.28 303.03 L356.28 303.45 L358.28 303.89 L360.28 304.34 L362.28 304.80 L364.28 305.27 L366.28 305.75 L368.28 306.25 L370.28 306.75 L372.28 307.27 L374.28 307.80 L376.28 308.34 L378.28 308.89 L380.28 309.45 L382.28 310.02 L384.28 310.61 L386.28 311.20 L388.28 311.81 L390.28 312.43 L392.28 313.06 L394.28 313.70 L396.28 314.35 L398.28 315.02 L400.28 315.69 L402.28 316.38 L404.28 317.08 L406.28 317.79 L408.28 318.51 L410.28 319.24 L412.28 319.98 L414.28 320.74 L416.28 321.50 L418.28 322.28 L420.28 323.07 L422.28 323.87 L424.28 324.68 L426.28 325.50 L428.28 326.33 L430.28 327.17 L432.28 328.03 L432.50 328.12" fill="none" stroke="#101010" stroke-width="1.6" stroke-linejoin="round" stroke-linecap="round"/>
<path d="M26.28 400.74 L28.28 399.07 L30.28 397.41 L32.28 395.77 L34.28 394.14 L36.28 392.52 L38.28 390.91 L40.28 389.32 L42.28 387.74 L44.28 386.17 L46.28 384.62 L48.28 383.08 L50.28 381.55 L52.28 380.04 L54.28 378.53 L56.28 377.04 L58.28 375.57 L60.28 374.10 L62.28 372.65 L64.28 371.21 L66.28 369.79 L68.28 368.37 L70.28 366.97 L72.28 365.58 L74.28 364.20 L76.28 362.84 L78.28 361.49 L80.28 360.15 L82.28 358.82 L84.28 357.50 L86.28 356.20 L88.28 354.91 L90.28 353.63 L92.28 352.36 L94.28 351.10 L96.28 349.86 L98.28 348.63 L100.28 347.40 L102.28 346.20 L104.28 345.00 L106.28 343.81 L108.28 342.64 L110.28 341.47 L112.28 340.32 L114.28 339.18 L116.28 338.05 L118.28 336.94 L120.28 335.83 L122.28 334.74 L124.28 333.65 L126.28 332.58 L128.28 331.52 L130.28 330.47 L132.28 329.43 L134.28 328.40 L136.28 327.38 L138.28 326.38 L140.28 325.38 L142.28 324.39 L144.28 323.42 L146.28 322.45 L148.28 321.50 L150.28 320.55 L152.28 319.62 L154.28 318.70 L156.28 317.78 L158.28 316.88 L160.28 315.98 L162.28 315.10 L164.28 314.22 L166.28 313.36 L168.28 312.50 L170.28 311.66 L172.28 310.82 L174.28 309.99 L176.28 309.18 L178.28 308.37 L180.28 307.57 L182.28 306.78 L184.28 306.00 L186.28 305.22 L188.28 304.46 L190.28 303.71 L192.28 302.96 L194.28 302.22 L196.28 301.49 L198.28 300.77 L200.28 300.06 L202.28 299.36 L204.28 298.66 L206.28 297.97 L208.28 297.29 L210.28 296.62 L212.28 295.96 L214.28 295.30 L216.28 294.65 L218.28 294.01 L220.28 293.38 L222.28 292.76 L224.28 292.14 L226.28 291.53 L228.28 290.93 L230.28 290.33 L232.28 289.75 L234.28 289.17 L236.28 288.59 L238.28 288.03 L240.28 287.47 L242.28 286.92 L244.28 286.38 L246.28 285.84 L248.28 285.31 L250.28 284.79 L252.28 284.28 L254.28 283.77 L256.28 283.27 L258.28 282.77 L260.28 282.28 L262.28 281.80 L264.28 281.33 L266.28 280.86 L268.28 280.40 L270.28 279.95 L272.28 279.50 L274.28 279.06 L276.28 278.63 L278.28 278.20 L280.28 277.78 L282.28 277.36 L284.28 276.95 L286.28 276.55 L288.28 276.15 L290.28 275.76 L292.28 275.38 L294.28 275.00 L296.28 274.63 L298.28 274.27 L300.28 273.91 L302.28 273.55 L304.28 273.20 L306.28 272.86 L308.28 272.53 L310.28 272.19 L312.28 271.87 L314.28 271.55 L316.28 271.24 L318.28 270.93 L320.28 270.63 L322.28 270.33 L324.28 270.04 L326.28 269.75 L328.28 269.47 L330.28 269.20 L332.28 268.93 L334.28 268.66 L336.28 268.40 L338.28 268.15 L340.28 267.90 L342.28 267.65 L344.28 267.41 L346.28 267.18 L348.28 266.95 L350.28 266.73 L352.28 266.51 L354.28 266.29 L356.28 266.08 L358.28 265.88 L360.28 265.68 L362.28 265.48 L364.28 265.29 L366.28 265.10 L368.28 264.92 L370.28 264.74 L372.28 264.57 L374.28 264.40 L376.28 264.23 L378.28 264.08 L380.28 263.92 L382.28 263.77 L384.28 263.63 L386.28 263.49 L388.28 263.35 L390.28 263.22 L392.28 263.09 L394.28 262.97 L396.28 262.86 L398.28 262.75 L400.28 262.64 L402.28 262.54 L404.28 262.44 L406.28 262.35 L408.28 262.27 L410.28 262.19 L412.28 262.11 L414.28 262.04 L416.28 261.98 L418.28 261.92 L420.28 261.86 L422.28 261.81 L424.28 261.77 L426.28 261.73 L428.28 261.70 L430.28 261.67 L432.28 261.65 L434.28 261.63 L436.28 261.62 L438.28 261.62 L440.28 261.62 L442.28 261.62 L444.28 261.64 L446.28 261.65 L448.28 261.68 L450.28 261.70 L452.28 261.74 L454.28 261.78 L456.28 261.83 L458.28 261.88 L460.28 261.93 L462.28 262.00 L464.28 262.07 L466.28 262.14 L468.28 262.22 L470.28 262.31 L472.28 262.41 L474.28 262.50 L476.28 262.61 L478.28 262.72 L480.28 262.84 L482.28 262.96 L484.28 263.09 L486.28 263.23 L488.28 263.37 L490.28 263.52 L492.28 263.68 L494.28 263.84 L496.28 264.01 L498.28 264.18 L500.28 264.36 L502.28 264.55 L504.28 264.75 L506.28 264.95 L508.28 265.15 L510.28 265.37 L512.28 265.59 L514.28 265.81 L516.28 266.05 L518.28 266.29 L520.28 266.54 L522.28 266.79 L524.28 267.05 L526.28 267.32 L528.28 267.59 L530.28 267.87 L532.28 268.16 L534.28 268.45 L536.28 268.76 L538.28 269.06 L540.28 269.38 L542.28 269.70 L544.28 270.03 L546.28 270.36 L548.28 270.70 L550.28 271.05 L552.28 271.41 L554.28 271.77 L556.28 272.13 L558.28 272.51 L560.28 272.89 L562.28 273.28 L564.28 273.67 L566.28 274.07 L568.28 274.47 L570.28 274.89 L572.28 275.31 L574.28 275.73 L576.28 276.16 L578.28 276.60 L580.28 277.04 L582.28 277.49 L584.28 277.95 L586.28 278.41 L588.28 278.88 L590.28 279.36 L592.28 279.84 L594.28 280.33 L596.28 280.82 L598.28 281.32 L600.28 281.82 L602.28 282.34 L604.28 282.85 L606.28 283.38 L608.28 283.91 L610.28 284.44 L612.28 284.98 L614.28 285.53 L616.28 286.08 L618.28 286.64 L620.28 287.21 L622.28 287.78 L624.28 288.36 L626.28 288.94 L628.28 289.53 L630.28 290.12 L632.28 290.72 L634.28 291.33 L636.28 291.94 L638.28 292.55 L640.28 293.18 L642.28 293.80 L644.28 294.44 L646.28 295.08 L648.28 295.72 L650.28 296.37 L652.28 297.03 L654.28 297.69 L656.28 298.35 L658.28 299.03 L660.28 299.70 L662.28 300.39 L664.28 301.08 L666.28 301.77 L668.28 302.47 L670.28 303.17 L672.28 303.88 L672.60 304.00" fill="none" stroke="#101010" stroke-width="1.7" stroke-linejoin="round" stroke-linecap="round"/>
<path d="M26.28 399.78 L28.28 398.32 L30.28 396.84 L32.28 395.34 L34.28 393.83 L36.28 392.30 L38.28 390.77 L40.28 389.22 L42.28 387.67 L44.28 386.10 L46.28 384.53 L48.28 382.95 L50.28 381.36 L52.28 379.78 L54.28 378.18 L56.28 376.59 L58.28 374.99 L60.28 373.40 L62.28 371.80 L64.28 370.21 L66.28 368.62 L68.28 367.04 L70.28 365.46 L72.28 363.88 L74.28 362.32 L76.28 360.76 L78.28 359.22 L80.28 357.68 L82.28 356.15 L84.28 354.64 L86.28 353.14 L88.28 351.65 L90.28 350.18 L92.28 348.73 L94.28 347.28 L96.28 345.86 L98.28 344.45 L100.28 343.06 L102.28 341.68 L104.28 340.32 L106.28 338.99 L108.28 337.67 L110.28 336.37 L112.28 335.09 L114.28 333.83 L116.28 332.59 L118.28 331.37 L120.28 330.17 L122.28 328.98 L124.28 327.81 L126.28 326.66 L128.28 325.53 L130.28 324.41 L132.28 323.31 L134.28 322.23 L136.28 321.16 L138.28 320.11 L140.28 319.08 L142.28 318.06 L144.28 317.06 L146.28 316.07 L148.28 315.10 L150.28 314.14 L152.28 313.20 L154.28 312.27 L156.28 311.36 L158.28 310.46 L160.28 309.57 L162.28 308.70 L164.28 307.84 L166.28 307.00 L168.28 306.16 L170.28 305.35 L172.28 304.54 L174.28 303.74 L176.28 302.96 L178.28 302.19 L180.28 301.43 L182.28 300.68 L184.28 299.95 L186.28 299.22 L188.28 298.51 L190.28 297.80 L192.28 297.11 L194.28 296.43 L196.28 295.75 L198.28 295.09 L200.28 294.43 L202.28 293.79 L204.28 293.15 L206.28 292.52 L208.28 291.90 L210.28 291.29 L212.28 290.69 L214.28 290.10 L216.28 289.51 L218.28 288.93 L220.28 288.36 L222.28 287.79 L224.28 287.23 L226.28 286.68 L228.28 286.13 L230.28 285.60 L232.28 285.06 L234.28 284.53 L236.28 284.01 L238.28 283.49 L240.28 282.98 L242.28 282.47 L244.28 281.97 L246.28 281.47 L248.28 280.98 L250.28 280.49 L252.28 280.01 L254.28 279.53 L256.28 279.06 L258.28 278.59 L260.28 278.13 L262.28 277.67 L264.28 277.21 L266.28 276.77 L268.28 276.32 L270.28 275.88 L272.28 275.45 L274.28 275.02 L276.28 274.60 L278.28 274.18 L280.28 273.76 L282.28 273.35 L284.28 272.95 L286.28 272.55 L288.28 272.15 L290.28 271.77 L292.28 271.38 L294.28 271.00 L296.28 270.63 L298.28 270.26 L300.28 269.89 L302.28 269.53 L304.28 269.18 L306.28 268.83 L308.28 268.49 L310.28 268.15 L312.28 267.81 L314.28 267.48 L316.28 267.16 L318.28 266.84 L320.28 266.53 L322.28 266.22 L324.28 265.91 L326.28 265.61 L328.28 265.32 L330.28 265.03 L332.28 264.75 L334.28 264.47 L336.28 264.20 L338.28 263.93 L340.28 263.67 L342.28 263.41 L344.28 263.16 L346.28 262.91 L348.28 262.67 L350.28 262.43 L352.28 262.20 L354.28 261.97 L356.28 261.75 L358.28 261.53 L360.28 261.32 L362.28 261.12 L364.28 260.92 L366.28 260.72 L368.28 260.53 L370.28 260.35 L372.28 260.17 L374.28 259.99 L376.28 259.82 L378.28 259.66 L380.28 259.50 L382.28 259.34 L384.28 259.20 L386.28 259.05 L388.28 258.92 L390.28 258.78 L392.28 258.66 L394.28 258.53 L396.28 258.42 L398.28 258.31 L400.28 258.20 L402.28 258.10 L404.28 258.00 L406.28 257.91 L408.28 257.83 L410.28 257.75 L412.28 257.68 L414.28 257.61 L416.28 257.55 L418.28 257.49 L420.28 257.43 L422.28 257.39 L424.28 257.35 L426.28 257.31 L428.28 257.28 L430.28 257.25 L432.28 257.23 L434.28 257.22 L436.28 257.21 L438.28 257.21 L440.28 257.21 L442.28 257.22 L444.28 257.23 L446.28 257.25 L448.28 257.27 L450.28 257.30 L452.28 257.33 L454.28 257.37 L456.28 257.42 L458.28 257.47 L460.28 257.53 L462.28 257.59 L464.28 257.65 L466.28 257.73 L468.28 257.81 L470.00 257.88" fill="none" stroke="#101010" stroke-width="1.8" stroke-linejoin="round" stroke-linecap="round"/>
<path d="M26.28 400.23 L30.28 396.85 L34.28 393.47 L38.28 390.11 L42.28 386.75 L46.28 383.41 L50.28 380.09 L54.28 376.79 L58.28 373.53 L62.28 370.29 L66.28 367.10 L70.28 363.94 L74.28 360.83 L78.28 357.77 L82.28 354.76 L86.28 351.81 L90.28 348.91 L94.28 346.08 L98.28 343.31 L102.28 340.61 L106.28 337.97 L110.28 335.41 L114.28 332.91 L118.28 330.48 L122.28 328.12 L126.28 325.82 L130.28 323.59 L134.28 321.43 L138.28 319.32 L142.28 317.28 L146.28 315.30 L150.28 313.37 L154.28 311.50 L158.28 309.69 L162.28 307.93 L166.28 306.22 L170.28 304.56 L174.28 302.95 L178.28 301.38 L182.28 299.86 L186.28 298.38 L190.28 296.95 L194.28 295.55 L198.28 294.19 L202.28 292.87 L206.28 291.58 L210.28 290.33 L214.28 289.11 L218.28 287.92 L222.28 286.75 L226.28 285.62 L230.28 284.51 L234.28 283.42 L238.28 282.36 L242.28 281.31 L246.28 280.28 L250.28 279.28 L254.28 278.29 L258.28 277.33 L262.28 276.38 L266.28 275.46 L270.28 274.55 L274.28 273.67 L278.28 272.80 L282.28 271.96 L286.28 271.13 L290.28 270.33 L294.28 269.55 L298.28 268.79 L302.28 268.05 L306.28 267.33 L310.28 266.63 L314.28 265.95 L318.28 265.30 L322.28 264.66 L326.28 264.05 L330.28 263.46 L334.28 262.89 L338.28 262.34 L342.28 261.82 L346.28 261.32 L350.28 260.83 L354.28 260.38 L358.28 259.94 L362.28 259.53 L366.28 259.14" fill="none" stroke="#101010" stroke-width="1.3" stroke-linejoin="round" stroke-linecap="round"/>
<path d="M26.28 400.67 L28.28 398.76 L30.28 396.86 L32.28 394.98 L34.28 393.12 L36.28 391.27 L38.28 389.44 L40.28 387.63 L42.28 385.83 L44.28 384.05 L46.28 382.29 L48.28 380.55 L50.28 378.82 L52.28 377.10 L54.28 375.41 L56.28 373.73 L58.28 372.06 L60.28 370.41 L62.28 368.78 L64.28 367.17 L66.28 365.57 L68.28 363.99 L70.28 362.42 L72.28 360.87 L74.28 359.34 L76.28 357.82 L78.28 356.32 L80.28 354.83 L82.28 353.36 L84.28 351.91 L86.28 350.47 L88.28 349.05 L90.28 347.64 L92.28 346.25 L94.28 344.88 L96.28 343.52 L98.28 342.17 L100.28 340.85 L102.28 339.53 L104.28 338.24 L106.28 336.96 L108.28 335.69 L110.28 334.44 L112.28 333.21 L114.28 331.99 L116.28 330.78 L118.28 329.59 L120.28 328.42 L122.28 327.26 L124.28 326.12 L126.28 324.99 L128.28 323.88 L130.28 322.78 L132.28 321.70 L134.28 320.63 L136.28 319.58 L138.28 318.54 L140.28 317.51 L142.28 316.50 L144.28 315.51 L146.28 314.53 L148.28 313.56 L150.28 312.61 L152.28 311.67 L154.28 310.74 L156.28 309.82 L158.28 308.92 L160.28 308.03 L162.28 307.16 L164.28 306.29 L166.28 305.44 L168.28 304.60 L170.28 303.77 L172.28 302.95 L174.28 302.15 L176.28 301.35 L178.28 300.57 L180.28 299.80 L182.28 299.03 L184.28 298.28 L186.28 297.54 L188.28 296.81 L190.28 296.09 L192.28 295.38 L194.28 294.67 L196.28 293.98 L198.28 293.29 L200.28 292.62 L202.28 291.95 L204.28 291.29 L206.28 290.64 L208.28 290.00 L210.28 289.37 L212.28 288.74 L214.28 288.12 L216.28 287.51 L218.28 286.91 L220.28 286.31 L222.28 285.72 L224.28 285.13 L226.28 284.56 L228.28 283.99 L230.28 283.42 L232.28 282.86 L234.28 282.31 L236.28 281.76 L238.28 281.22 L240.28 280.68 L242.28 280.15 L244.28 279.62 L246.28 279.10 L248.28 278.58 L250.28 278.06 L252.28 277.56 L254.28 277.05 L256.28 276.56 L258.28 276.06 L260.28 275.58 L262.28 275.10 L264.28 274.62 L266.28 274.15 L268.28 273.68 L270.28 273.22 L272.28 272.76 L274.28 272.31 L276.28 271.87 L278.28 271.42 L280.28 270.99 L282.28 270.56 L284.28 270.14 L286.28 269.72 L288.28 269.30 L290.28 268.89 L292.28 268.49 L294.28 268.09 L296.28 267.70 L298.28 267.31 L300.28 266.93 L302.28 266.56 L304.28 266.19 L306.28 265.82 L308.28 265.46 L310.28 265.11 L312.28 264.76 L314.28 264.42 L316.28 264.08 L318.28 263.75 L320.28 263.43 L322.28 263.11 L324.28 262.79 L326.28 262.49 L328.28 262.18 L330.28 261.89 L332.28 261.60 L334.28 261.31 L336.28 261.03 L338.28 260.76 L340.28 260.49 L342.28 260.23 L344.28 259.97 L346.28 259.72 L348.28 259.48 L350.28 259.24 L352.28 259.01 L354.28 258.78 L356.28 258.56 L358.28 258.35 L360.28 258.14 L362.28 257.94 L364.28 257.74 L366.28 257.55 L368.28 257.37 L370.28 257.19 L372.28 257.02 L374.28 256.85 L376.28 256.69 L378.28 256.54 L380.28 256.39 L382.28 256.25 L384.28 256.12 L386.28 255.99 L388.28 255.86 L390.28 255.75 L392.28 255.64 L394.28 255.54 L396.28 255.44 L398.28 255.35 L400.28 255.27 L402.28 255.19 L404.28 255.12 L406.28 255.05 L408.28 254.99 L410.28 254.94 L412.28 254.90 L414.28 254.86 L416.28 254.83 L418.28 254.80 L420.28 254.78 L422.28 254.77 L424.28 254.76 L426.28 254.76 L428.28 254.77 L430.28 254.78 L432.28 254.81 L434.28 254.83 L436.28 254.87 L438.28 254.91 L440.28 254.95 L442.28 255.01 L444.28 255.06 L446.28 255.13 L448.28 255.20 L450.28 255.28 L452.28 255.36 L454.28 255.45 L456.28 255.55 L458.28 255.65 L460.28 255.76 L462.28 255.88 L464.28 256.00 L466.28 256.12 L468.28 256.25 L470.28 256.39 L472.28 256.53 L474.28 256.68 L476.28 256.84 L478.28 257.00 L480.28 257.17 L482.28 257.34 L484.28 257.52 L486.28 257.70 L488.28 257.89 L490.28 258.08 L492.28 258.28 L494.28 258.48 L496.28 258.69 L498.28 258.91 L500.28 259.13 L502.28 259.35 L504.28 259.58 L506.28 259.82 L508.28 260.06 L510.28 260.30 L512.28 260.55 L514.28 260.81 L516.28 261.07 L518.28 261.33 L520.28 261.60 L522.28 261.88 L524.28 262.16 L526.28 262.44 L528.28 262.73 L530.28 263.02 L532.28 263.32 L534.28 263.62 L536.28 263.93 L538.28 264.24 L540.28 264.55 L542.28 264.87 L544.28 265.20 L546.28 265.53 L548.28 265.86 L550.28 266.20 L552.28 266.54 L554.28 266.88 L556.28 267.23 L558.28 267.58 L560.28 267.94 L562.28 268.30 L564.28 268.66 L566.28 269.03 L568.28 269.40 L570.28 269.78 L572.28 270.16 L574.28 270.54 L576.28 270.93 L578.28 271.32 L580.28 271.72 L582.28 272.11 L584.28 272.51 L586.28 272.92 L588.28 273.33 L590.28 273.74 L592.28 274.15 L594.28 274.57 L596.28 274.99 L598.28 275.42 L600.28 275.84 L602.28 276.28 L604.28 276.71 L606.28 277.15 L608.28 277.59 L610.28 278.03 L612.28 278.47 L614.28 278.92 L616.28 279.37 L618.28 279.83 L620.28 280.28 L622.28 280.74 L624.28 281.21 L626.28 281.67 L628.28 282.14 L630.28 282.61 L632.28 283.08 L634.28 283.56 L636.28 284.03 L638.28 284.51 L640.28 284.99 L642.28 285.48 L644.28 285.97 L646.28 286.45 L648.28 286.95 L650.28 287.44 L652.28 287.93 L654.28 288.43 L656.28 288.93 L658.28 289.43 L660.28 289.93 L662.28 290.44 L664.28 290.95 L666.28 291.45 L668.28 291.97 L670.28 292.48 L672.28 292.99 L674.28 293.51 L676.28 294.02 L678.28 294.54 L680.28 295.06 L682.28 295.58 L684.28 296.11 L686.28 296.63 L688.28 297.16 L690.28 297.68 L692.28 298.21 L694.28 298.74 L696.28 299.27 L698.28 299.81 L700.28 300.34 L702.28 300.87 L703.60 301.23" fill="none" stroke="#101010" stroke-width="2.4" stroke-linejoin="round" stroke-linecap="round"/>
<text x="28.5" y="431" fill="#222" font-size="10.8" letter-spacing="0.34">Lichid pompat = Ap&#259;</text>
<text x="28.5" y="444.8" fill="#222" font-size="10.8" letter-spacing="0.34">Temperatura lichidului &#238;n timpul func&#539;ion&#259;rii = 60 &#176;C</text>
<text x="28.5" y="458.6" fill="#222" font-size="10.8" letter-spacing="0.34">Densitate = 983.2 kg/m&#179;</text>
<line x1="53.00" y1="468.50" x2="53.00" y2="696.20" stroke="#d6d8dc" stroke-width="1.6" stroke-linecap="butt"/>
<line x1="79.72" y1="468.50" x2="79.72" y2="696.20" stroke="#d6d8dc" stroke-width="1.6" stroke-linecap="butt"/>
<line x1="106.44" y1="468.50" x2="106.44" y2="696.20" stroke="#d6d8dc" stroke-width="1.6" stroke-linecap="butt"/>
<line x1="133.16" y1="468.50" x2="133.16" y2="696.20" stroke="#d6d8dc" stroke-width="1.6" stroke-linecap="butt"/>
<line x1="159.88" y1="468.50" x2="159.88" y2="696.20" stroke="#d6d8dc" stroke-width="1.6" stroke-linecap="butt"/>
<line x1="186.60" y1="468.50" x2="186.60" y2="696.20" stroke="#d6d8dc" stroke-width="1.6" stroke-linecap="butt"/>
<line x1="213.32" y1="468.50" x2="213.32" y2="696.20" stroke="#d6d8dc" stroke-width="1.6" stroke-linecap="butt"/>
<line x1="240.04" y1="468.50" x2="240.04" y2="696.20" stroke="#d6d8dc" stroke-width="1.6" stroke-linecap="butt"/>
<line x1="266.76" y1="468.50" x2="266.76" y2="696.20" stroke="#d6d8dc" stroke-width="1.6" stroke-linecap="butt"/>
<line x1="293.48" y1="468.50" x2="293.48" y2="696.20" stroke="#d6d8dc" stroke-width="1.6" stroke-linecap="butt"/>
<line x1="320.20" y1="468.50" x2="320.20" y2="696.20" stroke="#d6d8dc" stroke-width="1.6" stroke-linecap="butt"/>
<line x1="346.92" y1="468.50" x2="346.92" y2="696.20" stroke="#d6d8dc" stroke-width="1.6" stroke-linecap="butt"/>
<line x1="373.64" y1="468.50" x2="373.64" y2="696.20" stroke="#d6d8dc" stroke-width="1.6" stroke-linecap="butt"/>
<line x1="400.36" y1="468.50" x2="400.36" y2="696.20" stroke="#d6d8dc" stroke-width="1.6" stroke-linecap="butt"/>
<line x1="427.08" y1="468.50" x2="427.08" y2="696.20" stroke="#d6d8dc" stroke-width="1.6" stroke-linecap="butt"/>
<line x1="453.80" y1="468.50" x2="453.80" y2="696.20" stroke="#d6d8dc" stroke-width="1.6" stroke-linecap="butt"/>
<line x1="480.52" y1="468.50" x2="480.52" y2="696.20" stroke="#d6d8dc" stroke-width="1.6" stroke-linecap="butt"/>
<line x1="507.24" y1="468.50" x2="507.24" y2="696.20" stroke="#d6d8dc" stroke-width="1.6" stroke-linecap="butt"/>
<line x1="533.96" y1="468.50" x2="533.96" y2="696.20" stroke="#d6d8dc" stroke-width="1.6" stroke-linecap="butt"/>
<line x1="560.68" y1="468.50" x2="560.68" y2="696.20" stroke="#d6d8dc" stroke-width="1.6" stroke-linecap="butt"/>
<line x1="587.40" y1="468.50" x2="587.40" y2="696.20" stroke="#d6d8dc" stroke-width="1.6" stroke-linecap="butt"/>
<line x1="614.12" y1="468.50" x2="614.12" y2="696.20" stroke="#d6d8dc" stroke-width="1.6" stroke-linecap="butt"/>
<line x1="640.84" y1="468.50" x2="640.84" y2="696.20" stroke="#d6d8dc" stroke-width="1.6" stroke-linecap="butt"/>
<line x1="667.56" y1="468.50" x2="667.56" y2="696.20" stroke="#d6d8dc" stroke-width="1.6" stroke-linecap="butt"/>
<line x1="694.28" y1="468.50" x2="694.28" y2="696.20" stroke="#d6d8dc" stroke-width="1.6" stroke-linecap="butt"/>
<line x1="721.00" y1="468.50" x2="721.00" y2="696.20" stroke="#d6d8dc" stroke-width="1.6" stroke-linecap="butt"/>
<line x1="747.72" y1="468.50" x2="747.72" y2="696.20" stroke="#d6d8dc" stroke-width="1.6" stroke-linecap="butt"/>
<line x1="26.28" y1="675.09" x2="773.60" y2="675.09" stroke="#d6d8dc" stroke-width="1.6" stroke-linecap="butt"/>
<line x1="26.28" y1="653.97" x2="773.60" y2="653.97" stroke="#d6d8dc" stroke-width="1.6" stroke-linecap="butt"/>
<line x1="26.28" y1="632.86" x2="773.60" y2="632.86" stroke="#d6d8dc" stroke-width="1.6" stroke-linecap="butt"/>
<line x1="26.28" y1="611.74" x2="773.60" y2="611.74" stroke="#d6d8dc" stroke-width="1.6" stroke-linecap="butt"/>
<line x1="26.28" y1="590.62" x2="773.60" y2="590.62" stroke="#d6d8dc" stroke-width="1.6" stroke-linecap="butt"/>
<line x1="26.28" y1="569.51" x2="773.60" y2="569.51" stroke="#d6d8dc" stroke-width="1.6" stroke-linecap="butt"/>
<line x1="26.28" y1="548.40" x2="773.60" y2="548.40" stroke="#d6d8dc" stroke-width="1.6" stroke-linecap="butt"/>
<line x1="26.28" y1="527.28" x2="773.60" y2="527.28" stroke="#d6d8dc" stroke-width="1.6" stroke-linecap="butt"/>
<line x1="26.28" y1="506.17" x2="773.60" y2="506.17" stroke="#d6d8dc" stroke-width="1.6" stroke-linecap="butt"/>
<line x1="26.28" y1="485.05" x2="773.60" y2="485.05" stroke="#d6d8dc" stroke-width="1.6" stroke-linecap="butt"/>
<line x1="22.00" y1="696.20" x2="26.28" y2="696.20" stroke="#aaa" stroke-width="1.3" stroke-linecap="butt"/>
<line x1="22.00" y1="675.09" x2="26.28" y2="675.09" stroke="#aaa" stroke-width="1.3" stroke-linecap="butt"/>
<line x1="22.00" y1="653.97" x2="26.28" y2="653.97" stroke="#aaa" stroke-width="1.3" stroke-linecap="butt"/>
<line x1="22.00" y1="632.86" x2="26.28" y2="632.86" stroke="#aaa" stroke-width="1.3" stroke-linecap="butt"/>
<line x1="22.00" y1="611.74" x2="26.28" y2="611.74" stroke="#aaa" stroke-width="1.3" stroke-linecap="butt"/>
<line x1="22.00" y1="590.62" x2="26.28" y2="590.62" stroke="#aaa" stroke-width="1.3" stroke-linecap="butt"/>
<line x1="22.00" y1="569.51" x2="26.28" y2="569.51" stroke="#aaa" stroke-width="1.3" stroke-linecap="butt"/>
<line x1="22.00" y1="548.40" x2="26.28" y2="548.40" stroke="#aaa" stroke-width="1.3" stroke-linecap="butt"/>
<line x1="22.00" y1="527.28" x2="26.28" y2="527.28" stroke="#aaa" stroke-width="1.3" stroke-linecap="butt"/>
<line x1="22.00" y1="506.17" x2="26.28" y2="506.17" stroke="#333" stroke-width="1.3" stroke-linecap="butt"/>
<line x1="22.00" y1="485.05" x2="26.28" y2="485.05" stroke="#333" stroke-width="1.3" stroke-linecap="butt"/>
<line x1="26.28" y1="468.50" x2="773.60" y2="468.50" stroke="#6a6a6a" stroke-width="1.6" stroke-linecap="butt"/>
<line x1="773.60" y1="468.50" x2="773.60" y2="696.20" stroke="#6a6a6a" stroke-width="1.6" stroke-linecap="butt"/>
<line x1="26.28" y1="696.20" x2="773.60" y2="696.20" stroke="#a0a0a0" stroke-width="2.0" stroke-linecap="butt"/>
<line x1="26.28" y1="468.50" x2="26.28" y2="696.20" stroke="#111" stroke-width="1.4" stroke-linecap="butt"/>
<text x="17.30" y="700.20" text-anchor="end" font-size="11.2" font-weight="normal" fill="#1a1a1a" stroke="#1a1a1a" stroke-width="0.25">0</text>
<text x="17.30" y="679.09" text-anchor="end" font-size="11.2" font-weight="normal" fill="#1a1a1a" stroke="#1a1a1a" stroke-width="0.25">2</text>
<text x="17.30" y="657.97" text-anchor="end" font-size="11.2" font-weight="normal" fill="#1a1a1a" stroke="#1a1a1a" stroke-width="0.25">4</text>
<text x="17.30" y="636.86" text-anchor="end" font-size="11.2" font-weight="normal" fill="#1a1a1a" stroke="#1a1a1a" stroke-width="0.25">6</text>
<text x="17.30" y="615.74" text-anchor="end" font-size="11.2" font-weight="normal" fill="#1a1a1a" stroke="#1a1a1a" stroke-width="0.25">8</text>
<text x="17.30" y="594.62" text-anchor="end" font-size="11.2" font-weight="normal" fill="#1a1a1a" stroke="#1a1a1a" stroke-width="0.25">10</text>
<text x="17.30" y="573.51" text-anchor="end" font-size="11.2" font-weight="normal" fill="#1a1a1a" stroke="#1a1a1a" stroke-width="0.25">12</text>
<text x="17.30" y="552.40" text-anchor="end" font-size="11.2" font-weight="normal" fill="#1a1a1a" stroke="#1a1a1a" stroke-width="0.25">14</text>
<text x="17.30" y="531.28" text-anchor="end" font-size="11.2" font-weight="normal" fill="#1a1a1a" stroke="#1a1a1a" stroke-width="0.25">16</text>
<text x="17.30" y="510.17" text-anchor="end" font-size="11.2" font-weight="normal" fill="#1a1a1a" stroke="#1a1a1a" stroke-width="0.25">18</text>
<text x="10.50" y="476.80" text-anchor="middle" font-size="11.5" font-weight="normal" fill="#1a1a1a" stroke="#1a1a1a" stroke-width="0.4">P1</text>
<text x="11.50" y="490.50" text-anchor="middle" font-size="11.5" font-weight="normal" fill="#1a1a1a" stroke="#1a1a1a" stroke-width="0.25">[W]</text>
<line x1="26.28" y1="567.00" x2="131.00" y2="506.30" stroke="#0f4586" stroke-width="1.7" stroke-linecap="round"/>
<line x1="131.00" y1="506.30" x2="580.00" y2="506.30" stroke="#0f4586" stroke-width="1.9" stroke-linecap="round"/>
<line x1="575.00" y1="506.30" x2="703.40" y2="506.30" stroke="#0f4586" stroke-width="2.5" stroke-linecap="round"/>
<line x1="569.00" y1="506.30" x2="580.00" y2="506.30" stroke="#0f4586" stroke-width="3.2" stroke-linecap="round"/>
<path d="M26.28 598.62 L28.28 598.01 L30.28 597.40 L32.28 596.79 L34.28 596.17 L36.28 595.55 L38.28 594.93 L40.28 594.30 L42.28 593.67 L44.28 593.04 L46.28 592.40 L48.28 591.77 L50.28 591.13 L52.28 590.48 L54.28 589.83 L56.28 589.18 L58.28 588.53 L60.28 587.87 L62.28 587.21 L64.28 586.55 L66.28 585.89 L68.28 585.22 L70.28 584.54 L72.28 583.87 L74.28 583.19 L76.28 582.51 L78.28 581.83 L80.28 581.14 L82.28 580.45 L84.28 579.75 L86.28 579.06 L88.28 578.36 L90.28 577.66 L92.28 576.95 L94.28 576.24 L96.28 575.53 L98.28 574.81 L100.28 574.10 L102.28 573.38 L104.28 572.65 L106.28 571.92 L108.28 571.19 L110.28 570.46 L112.28 569.72 L114.28 568.98 L116.28 568.24 L118.28 567.50 L120.28 566.75 L122.28 566.00 L124.28 565.24 L126.28 564.48 L128.28 563.72 L130.28 562.96 L132.28 562.19 L134.28 561.42 L136.28 560.65 L138.28 559.87 L140.28 559.09 L142.28 558.31 L144.28 557.52 L146.28 556.73 L148.28 555.94 L150.28 555.15 L152.28 554.35 L154.28 553.55 L156.28 552.74 L158.28 551.94 L160.28 551.13 L162.28 550.31 L164.28 549.50 L166.28 548.68 L168.28 547.85 L170.28 547.03 L172.28 546.20 L174.28 545.37 L176.28 544.53 L178.28 543.70 L180.28 542.85 L182.28 542.01 L184.28 541.16 L186.28 540.31 L188.28 539.46 L190.28 538.60 L192.28 537.74 L194.28 536.88 L196.28 536.02 L198.28 535.15 L200.28 534.27 L202.28 533.40 L204.28 532.52 L206.28 531.64 L208.28 530.76 L210.28 529.87 L212.28 528.98 L214.28 528.09 L216.28 527.19 L218.28 526.29 L220.28 525.39 L222.28 524.48 L224.28 523.57 L226.28 522.66 L228.28 521.75 L230.28 520.83 L232.28 519.91 L234.28 518.98 L236.28 518.06 L238.28 517.13 L240.28 516.19 L242.28 515.26 L244.28 514.32 L246.28 513.38 L248.28 512.43 L250.28 511.48 L252.28 510.53 L254.28 509.58 L256.28 508.62 L258.28 507.66 L260.28 506.69 L262.28 505.73 L264.00 504.89" fill="none" stroke="#0f4586" stroke-width="1.6" stroke-linejoin="round" stroke-linecap="round"/>
<path d="M26.28 633.43 L28.28 632.85 L30.28 632.26 L32.28 631.68 L34.28 631.10 L36.28 630.51 L38.28 629.93 L40.28 629.35 L42.28 628.77 L44.28 628.20 L46.28 627.62 L48.28 627.04 L50.28 626.47 L52.28 625.89 L54.28 625.32 L56.28 624.74 L58.28 624.17 L60.28 623.60 L62.28 623.03 L64.28 622.46 L66.28 621.89 L68.28 621.32 L70.28 620.75 L72.28 620.18 L74.28 619.61 L76.28 619.05 L78.28 618.48 L80.28 617.91 L82.28 617.35 L84.28 616.78 L86.28 616.22 L88.28 615.65 L90.28 615.09 L92.28 614.53 L94.28 613.96 L96.28 613.40 L98.28 612.83 L100.28 612.27 L102.28 611.71 L104.28 611.15 L106.28 610.58 L108.28 610.02 L110.28 609.46 L112.28 608.90 L114.28 608.33 L116.28 607.77 L118.28 607.21 L120.28 606.65 L122.28 606.08 L124.28 605.52 L126.28 604.96 L128.28 604.40 L130.28 603.83 L132.28 603.27 L134.28 602.71 L136.28 602.14 L138.28 601.58 L140.28 601.02 L142.28 600.45 L144.28 599.89 L146.28 599.32 L148.28 598.75 L150.28 598.19 L152.28 597.62 L154.28 597.06 L156.28 596.49 L158.28 595.92 L160.28 595.35 L162.28 594.78 L164.28 594.21 L166.28 593.64 L168.28 593.07 L170.28 592.50 L172.28 591.93 L174.28 591.35 L176.28 590.78 L178.28 590.21 L180.28 589.63 L182.28 589.05 L184.28 588.48 L186.28 587.90 L188.28 587.32 L190.28 586.74 L192.28 586.16 L194.28 585.58 L196.28 585.00 L198.28 584.41 L200.28 583.83 L202.28 583.24 L204.28 582.66 L206.28 582.07 L208.28 581.48 L210.28 580.89 L212.28 580.30 L214.28 579.70 L216.28 579.11 L218.28 578.51 L220.28 577.92 L222.28 577.32 L224.28 576.72 L226.28 576.12 L228.28 575.52 L230.28 574.92 L232.28 574.31 L234.28 573.70 L236.28 573.10 L238.28 572.49 L240.28 571.88 L242.28 571.26 L244.28 570.65 L246.28 570.03 L248.28 569.42 L250.28 568.80 L252.28 568.18 L254.28 567.56 L256.28 566.93 L258.28 566.31 L260.28 565.68 L262.28 565.05 L264.28 564.42 L266.28 563.78 L268.28 563.15 L270.28 562.51 L272.28 561.87 L274.28 561.23 L276.28 560.59 L278.28 559.95 L280.28 559.30 L282.28 558.65 L284.28 558.00 L286.28 557.34 L288.28 556.69 L290.28 556.03 L292.28 555.37 L294.28 554.71 L296.28 554.05 L298.28 553.38 L300.28 552.71 L302.28 552.04 L304.28 551.37 L306.28 550.69 L308.28 550.01 L310.28 549.33 L312.28 548.65 L314.28 547.96 L316.28 547.28 L318.28 546.59 L320.28 545.89 L322.28 545.20 L324.28 544.50 L326.28 543.80 L328.28 543.10 L330.28 542.39 L332.28 541.68 L334.28 540.97 L336.28 540.25 L338.28 539.54 L340.28 538.82 L342.28 538.10 L344.28 537.37 L346.28 536.64 L348.28 535.91 L350.28 535.18 L352.28 534.44 L354.28 533.70 L356.28 532.96 L358.28 532.21 L360.28 531.46 L362.28 530.71 L364.28 529.95 L366.28 529.20 L368.28 528.43 L370.28 527.67 L372.28 526.90 L374.28 526.13 L376.28 525.36 L378.28 524.58 L380.28 523.80 L382.28 523.01 L384.28 522.23 L386.28 521.44 L388.28 520.64 L390.28 519.84 L392.28 519.04 L394.28 518.24 L396.28 517.43 L398.28 516.62 L400.28 515.80 L402.28 514.99 L404.28 514.16 L406.28 513.34 L408.28 512.51 L410.28 511.67 L412.28 510.84 L414.28 510.00 L416.28 509.15 L418.28 508.31 L420.28 507.45 L422.28 506.60 L423.00 506.29" fill="none" stroke="#0f4586" stroke-width="1.6" stroke-linejoin="round" stroke-linecap="round"/>
<path d="M26.28 628.00 L28.28 627.55 L30.28 627.09 L32.28 626.64 L34.28 626.18 L36.28 625.73 L38.28 625.27 L40.28 624.81 L42.28 624.36 L44.28 623.90 L46.28 623.45 L48.28 622.99 L50.28 622.53 L52.28 622.07 L54.28 621.62 L56.28 621.16 L58.28 620.70 L60.28 620.24 L62.28 619.78 L64.28 619.32 L66.28 618.86 L68.28 618.41 L70.28 617.95 L72.28 617.49 L74.28 617.03 L76.28 616.56 L78.28 616.10 L80.28 615.64 L82.28 615.18 L84.28 614.72 L86.28 614.26 L88.28 613.81 L90.28 613.35 L92.28 612.89 L94.28 612.43 L96.28 611.97 L98.28 611.51 L100.28 611.05 L102.28 610.59 L104.28 610.13 L106.28 609.67 L108.28 609.21 L110.28 608.75 L112.28 608.29 L114.28 607.82 L116.28 607.36 L118.28 606.89 L120.28 606.42 L122.28 605.95 L124.28 605.48 L126.28 605.01 L128.28 604.53 L130.28 604.05 L132.28 603.57 L134.28 603.09 L136.28 602.61 L138.28 602.12 L140.28 601.62 L142.28 601.13 L144.28 600.63 L146.28 600.13 L148.28 599.62 L150.28 599.12 L152.28 598.61 L154.28 598.10 L156.28 597.59 L158.28 597.07 L160.28 596.56 L162.28 596.04 L164.28 595.52 L166.28 595.00 L168.28 594.49 L170.28 593.97 L172.28 593.45 L174.28 592.93 L176.28 592.41 L178.28 591.89 L180.28 591.37 L182.28 590.86 L184.28 590.34 L186.28 589.82 L188.28 589.31 L190.28 588.80 L192.28 588.29 L194.28 587.78 L196.28 587.27 L198.28 586.77 L200.28 586.27 L202.28 585.77 L204.28 585.27 L206.28 584.78 L208.28 584.29 L210.28 583.80 L212.28 583.32 L214.28 582.84 L216.28 582.37 L218.28 581.90 L220.28 581.44 L222.28 580.97 L224.28 580.51 L226.28 580.06 L228.28 579.60 L230.28 579.15 L232.28 578.70 L234.28 578.25 L236.28 577.80 L238.28 577.36 L240.28 576.92 L242.28 576.48 L244.28 576.04 L246.28 575.61 L248.28 575.17 L250.28 574.74 L252.28 574.31 L254.28 573.88 L256.28 573.45 L258.28 573.03 L260.28 572.60 L262.28 572.18 L264.28 571.76 L266.28 571.34 L268.28 570.92 L270.28 570.51 L272.28 570.09 L274.28 569.68 L276.28 569.26 L278.28 568.85 L280.28 568.44 L282.28 568.03 L284.28 567.62 L286.28 567.21 L288.28 566.80 L290.28 566.40 L292.28 565.99 L294.28 565.58 L296.28 565.17 L298.28 564.77 L300.28 564.36 L302.28 563.96 L304.28 563.56 L306.28 563.15 L308.28 562.75 L310.28 562.35 L312.28 561.95 L314.28 561.56 L316.28 561.16 L318.28 560.77 L320.28 560.37 L322.28 559.98 L324.28 559.59 L326.28 559.21 L328.28 558.82 L330.28 558.44 L332.28 558.05 L334.28 557.67 L336.28 557.30 L338.28 556.92 L340.28 556.55 L342.28 556.18 L344.28 555.81 L346.28 555.44 L348.28 555.08 L350.28 554.72 L352.28 554.36 L354.28 554.00 L356.28 553.65 L358.28 553.30 L360.28 552.95 L362.28 552.61 L364.28 552.26 L366.28 551.92 L368.28 551.58 L370.28 551.24 L372.28 550.90 L374.28 550.56 L376.28 550.22 L378.28 549.88 L380.28 549.55 L382.28 549.22 L384.28 548.89 L386.28 548.56 L388.28 548.23 L390.28 547.90 L392.28 547.58 L394.28 547.25 L396.28 546.93 L398.28 546.62 L400.28 546.30 L402.28 545.98 L404.28 545.67 L406.28 545.36 L408.28 545.05 L410.28 544.75 L412.28 544.44 L414.28 544.14 L416.28 543.84 L418.28 543.55 L420.28 543.25 L422.28 542.96 L424.28 542.67 L426.28 542.39 L428.28 542.10 L430.28 541.82 L432.28 541.54 L434.28 541.27 L436.28 541.00 L438.28 540.73 L440.28 540.46 L442.28 540.20 L444.28 539.93 L446.28 539.66 L448.28 539.39 L450.28 539.12 L452.28 538.85 L454.28 538.58 L456.28 538.31 L458.28 538.04 L460.28 537.77 L462.28 537.50 L464.28 537.23 L466.28 536.96 L468.28 536.69 L470.28 536.42 L472.28 536.15 L474.28 535.89 L476.28 535.63 L478.28 535.37 L480.28 535.11 L482.28 534.86 L484.28 534.60 L486.28 534.35 L488.28 534.11 L490.28 533.86 L492.28 533.62 L494.28 533.39 L496.28 533.16 L498.28 532.93 L500.28 532.71 L502.28 532.49 L504.28 532.27 L506.28 532.06 L508.28 531.86 L510.28 531.66 L512.28 531.47 L514.28 531.28 L516.28 531.10 L518.28 530.93 L520.28 530.76 L522.28 530.60 L524.28 530.45 L526.28 530.30 L528.28 530.16 L530.28 530.03 L532.28 529.90 L534.28 529.78 L536.28 529.67 L538.28 529.56 L540.28 529.44 L542.28 529.33 L544.28 529.22 L546.28 529.11 L548.28 529.00 L550.28 528.89 L552.28 528.79 L554.28 528.68 L556.28 528.58 L558.28 528.48 L560.28 528.38 L562.28 528.29 L564.28 528.19 L566.28 528.10 L568.28 528.02 L570.28 527.93 L572.28 527.85 L574.28 527.78 L576.28 527.71 L578.28 527.64 L580.28 527.57 L582.28 527.51 L584.28 527.46 L586.28 527.41 L588.28 527.36 L590.28 527.32 L592.28 527.28 L594.28 527.25 L596.28 527.23 L598.28 527.21 L600.28 527.20 L602.28 527.19 L604.28 527.18 L606.28 527.17 L608.28 527.16 L610.28 527.15 L612.28 527.14 L614.28 527.13 L616.28 527.12 L618.28 527.12 L620.28 527.11 L622.28 527.10 L624.28 527.09 L626.28 527.08 L628.28 527.08 L630.28 527.07 L632.28 527.07 L634.28 527.06 L636.28 527.05 L638.28 527.05 L640.28 527.04 L642.28 527.04 L644.28 527.03 L646.28 527.03 L648.28 527.02 L650.28 527.02 L652.28 527.02 L654.28 527.01 L656.28 527.01 L658.28 527.01 L660.28 527.01 L662.28 527.00 L664.28 527.00 L666.28 527.00 L668.28 527.00 L670.28 527.00 L672.28 527.00 L673.00 527.00" fill="none" stroke="#0f4586" stroke-width="1.6" stroke-linejoin="round" stroke-linecap="round"/>
<path d="M26.28 654.70 L28.28 654.39 L30.28 654.07 L32.28 653.75 L34.28 653.43 L36.28 653.09 L38.28 652.75 L40.28 652.41 L42.28 652.05 L44.28 651.70 L46.28 651.33 L48.28 650.96 L50.28 650.58 L52.28 650.19 L54.28 649.80 L56.28 649.40 L58.28 648.99 L60.28 648.58 L62.28 648.16 L64.28 647.73 L66.28 647.30 L68.28 646.86 L70.28 646.42 L72.28 645.96 L74.28 645.51 L76.28 645.04 L78.28 644.57 L80.28 644.09 L82.28 643.60 L84.28 643.11 L86.28 642.61 L88.28 642.11 L90.28 641.60 L92.28 641.08 L94.28 640.56 L96.28 640.02 L98.28 639.49 L100.28 638.94 L102.28 638.39 L104.28 637.83 L106.28 637.27 L108.28 636.70 L110.28 636.12 L112.28 635.54 L114.28 634.95 L116.28 634.35 L118.28 633.75 L120.28 633.14 L122.28 632.52 L124.28 631.90 L126.28 631.27 L128.28 630.63 L130.28 629.99 L132.28 629.34 L134.28 628.69 L136.28 628.02 L138.28 627.36 L140.28 626.68 L142.28 626.00 L144.28 625.31 L146.28 624.62 L148.28 623.91 L150.28 623.21 L152.28 622.49 L154.28 621.77 L156.28 621.04 L158.28 620.31 L160.28 619.57 L162.28 618.82 L164.28 618.07 L166.28 617.31 L168.28 616.54 L170.28 615.77 L172.28 614.99 L174.28 614.20 L176.28 613.41 L178.28 612.61 L180.28 611.81 L182.28 611.00 L184.28 610.18 L186.28 609.35 L188.28 608.52 L190.28 607.68 L192.28 606.84 L194.28 605.99 L196.28 605.13 L198.28 604.27 L200.28 603.40 L202.28 602.52 L204.28 601.64 L206.28 600.75 L208.28 599.85 L210.28 598.95 L212.28 598.04 L214.28 597.12 L216.28 596.20 L218.28 595.27 L220.28 594.34 L222.28 593.40 L224.28 592.45 L226.28 591.49 L228.28 590.53 L230.28 589.57 L232.28 588.59 L234.28 587.61 L236.28 586.63 L238.28 585.63 L240.28 584.63 L242.28 583.63 L244.28 582.62 L246.28 581.60 L248.28 580.57 L250.28 579.54 L252.28 578.50 L254.28 577.46 L256.28 576.41 L258.28 575.35 L260.28 574.29 L262.28 573.22 L264.28 572.14 L266.28 571.06 L268.28 569.97 L270.28 568.87 L272.28 567.77 L274.28 566.66 L276.28 565.55 L278.28 564.42 L280.28 563.30 L282.28 562.16 L284.28 561.02 L286.28 559.87 L288.28 558.72 L290.28 557.56 L292.28 556.40 L294.28 555.22 L296.28 554.04 L298.28 552.86 L300.28 551.67 L302.28 550.47 L304.28 549.26 L306.28 548.05 L308.28 546.84 L310.28 545.61 L312.28 544.38 L314.28 543.15 L316.28 541.90 L318.28 540.65 L320.28 539.40 L322.28 538.14 L324.28 536.87 L326.28 535.59 L328.28 534.31 L330.28 533.02 L332.28 531.73 L334.28 530.43 L336.28 529.12 L338.28 527.81 L340.28 526.49 L342.28 525.17 L344.28 523.83 L346.28 522.50 L348.28 521.15 L350.28 519.80 L352.28 518.44 L354.28 517.08 L356.28 515.71 L358.28 514.33 L360.28 512.95 L362.28 511.56 L364.28 510.17 L366.28 508.77 L368.28 507.36 L370.00 506.14" fill="none" stroke="#0f4586" stroke-width="1.6" stroke-linejoin="round" stroke-linecap="round"/>
<path d="M26.28 658.14 L28.28 657.98 L30.28 657.82 L32.28 657.65 L34.28 657.47 L36.28 657.29 L38.28 657.11 L40.28 656.92 L42.28 656.73 L44.28 656.53 L46.28 656.33 L48.28 656.12 L50.28 655.91 L52.28 655.69 L54.28 655.47 L56.28 655.24 L58.28 655.01 L60.28 654.77 L62.28 654.53 L64.28 654.29 L66.28 654.04 L68.28 653.78 L70.28 653.52 L72.28 653.26 L74.28 652.99 L76.28 652.72 L78.28 652.44 L80.28 652.16 L82.28 651.87 L84.28 651.58 L86.28 651.28 L88.28 650.98 L90.28 650.68 L92.28 650.37 L94.28 650.05 L96.28 649.74 L98.28 649.41 L100.28 649.08 L102.28 648.75 L104.28 648.41 L106.28 648.07 L108.28 647.72 L110.28 647.37 L112.28 647.02 L114.28 646.66 L116.28 646.29 L118.28 645.92 L120.28 645.55 L122.28 645.17 L124.28 644.79 L126.28 644.40 L128.28 644.01 L130.28 643.61 L132.28 643.21 L134.28 642.81 L136.28 642.40 L138.28 641.98 L140.28 641.56 L142.28 641.14 L144.28 640.71 L146.28 640.28 L148.28 639.85 L150.28 639.40 L152.28 638.96 L154.28 638.51 L156.28 638.05 L158.28 637.60 L160.28 637.13 L162.28 636.66 L164.28 636.19 L166.28 635.72 L168.28 635.24 L170.28 634.75 L172.28 634.26 L174.28 633.77 L176.28 633.27 L178.28 632.76 L180.28 632.26 L182.28 631.75 L184.28 631.23 L186.28 630.71 L188.28 630.18 L190.28 629.66 L192.28 629.12 L194.28 628.58 L196.28 628.04 L198.28 627.50 L200.28 626.94 L202.28 626.39 L204.28 625.83 L206.28 625.27 L208.28 624.70 L210.28 624.13 L212.28 623.55 L214.28 622.97 L216.28 622.38 L218.28 621.79 L220.28 621.20 L222.28 620.60 L224.28 620.00 L226.28 619.39 L228.28 618.78 L230.28 618.17 L232.28 617.55 L234.28 616.92 L236.28 616.29 L238.28 615.66 L240.28 615.03 L242.28 614.38 L244.28 613.74 L246.28 613.09 L248.28 612.44 L250.28 611.78 L252.28 611.12 L254.28 610.45 L256.28 609.78 L258.28 609.11 L260.28 608.43 L262.28 607.75 L264.28 607.06 L266.28 606.37 L268.28 605.67 L270.28 604.97 L272.28 604.27 L274.28 603.56 L276.28 602.85 L278.28 602.13 L280.28 601.41 L282.28 600.69 L284.28 599.96 L286.28 599.23 L288.28 598.49 L290.28 597.75 L292.28 597.00 L294.28 596.26 L296.28 595.50 L298.28 594.74 L300.28 593.98 L302.28 593.22 L304.28 592.45 L306.28 591.67 L308.28 590.90 L310.28 590.12 L312.28 589.33 L314.28 588.54 L316.28 587.75 L318.28 586.95 L320.28 586.15 L322.28 585.34 L324.28 584.53 L326.28 583.72 L328.28 582.90 L330.28 582.07 L332.28 581.25 L334.28 580.42 L336.28 579.58 L338.28 578.75 L340.28 577.90 L342.28 577.06 L344.28 576.21 L346.28 575.35 L348.28 574.49 L350.28 573.63 L352.28 572.77 L354.28 571.90 L356.28 571.02 L358.28 570.14 L360.28 569.26 L362.28 568.38 L364.28 567.49 L366.28 566.59 L368.28 565.70 L370.28 564.79 L372.28 563.89 L374.28 562.98 L376.28 562.07 L378.28 561.15 L380.28 560.23 L382.28 559.30 L384.28 558.37 L386.28 557.44 L388.28 556.50 L390.28 555.56 L392.28 554.62 L394.28 553.67 L396.28 552.72 L398.28 551.76 L400.28 550.80 L402.28 549.84 L404.28 548.87 L406.28 547.90 L408.28 546.92 L410.28 545.95 L412.28 544.96 L414.28 543.98 L416.28 542.99 L418.28 541.99 L420.28 540.99 L422.28 539.99 L424.28 538.99 L426.28 537.98 L428.28 536.96 L430.28 535.95 L432.28 534.92 L434.28 533.90 L436.28 532.87 L438.28 531.84 L440.28 530.80 L442.28 529.76 L444.28 528.72 L446.28 527.67 L448.28 526.62 L450.28 525.57 L452.28 524.51 L454.28 523.45 L456.28 522.38 L458.28 521.31 L460.28 520.24 L462.28 519.16 L464.28 518.08 L466.28 517.00 L468.28 515.91 L470.28 514.82 L472.28 513.72 L474.28 512.62 L476.28 511.52 L478.28 510.41 L480.28 509.30 L482.28 508.19 L484.28 507.07 L486.00 506.11" fill="none" stroke="#0f4586" stroke-width="1.6" stroke-linejoin="round" stroke-linecap="round"/>
<path d="M26.28 665.85 L28.28 665.63 L30.28 665.40 L32.28 665.18 L34.28 664.95 L36.28 664.73 L38.28 664.51 L40.28 664.28 L42.28 664.06 L44.28 663.84 L46.28 663.61 L48.28 663.39 L50.28 663.17 L52.28 662.95 L54.28 662.73 L56.28 662.51 L58.28 662.29 L60.28 662.07 L62.28 661.85 L64.28 661.63 L66.28 661.41 L68.28 661.20 L70.28 660.98 L72.28 660.76 L74.28 660.55 L76.28 660.33 L78.28 660.11 L80.28 659.90 L82.28 659.69 L84.28 659.47 L86.28 659.26 L88.28 659.05 L90.28 658.84 L92.28 658.62 L94.28 658.41 L96.28 658.20 L98.28 657.99 L100.28 657.79 L102.28 657.58 L104.28 657.37 L106.28 657.16 L108.28 656.96 L110.28 656.75 L112.28 656.55 L114.28 656.34 L116.28 656.14 L118.28 655.94 L120.28 655.73 L122.28 655.53 L124.28 655.33 L126.28 655.13 L128.28 654.93 L130.28 654.73 L132.28 654.54 L134.28 654.34 L136.28 654.14 L138.28 653.95 L140.28 653.75 L142.28 653.56 L144.28 653.37 L146.28 653.18 L148.28 652.99 L150.28 652.80 L152.28 652.61 L154.28 652.42 L156.28 652.23 L158.28 652.04 L160.28 651.86 L162.28 651.67 L164.28 651.49 L166.28 651.31 L168.28 651.12 L170.28 650.94 L172.28 650.76 L174.28 650.58 L176.28 650.41 L178.28 650.23 L180.28 650.05 L182.28 649.88 L184.28 649.70 L186.28 649.53 L188.28 649.36 L190.28 649.19 L192.28 649.02 L194.28 648.85 L196.28 648.68 L198.28 648.51 L200.28 648.35 L202.28 648.18 L204.28 648.02 L206.28 647.85 L208.28 647.69 L210.28 647.53 L212.28 647.37 L214.28 647.22 L216.28 647.06 L218.28 646.90 L220.28 646.75 L222.28 646.60 L224.28 646.44 L226.28 646.29 L228.28 646.14 L230.28 645.99 L232.28 645.85 L234.28 645.70 L236.28 645.56 L238.28 645.41 L240.28 645.27 L242.28 645.13 L244.28 644.99 L246.28 644.85 L248.28 644.72 L250.28 644.58 L252.28 644.44 L254.28 644.31 L256.28 644.18 L258.28 644.05 L260.28 643.92 L262.28 643.79 L264.28 643.67 L266.28 643.54 L268.28 643.42 L270.28 643.30 L272.28 643.18 L274.28 643.06 L276.28 642.94 L278.28 642.82 L280.28 642.71 L282.28 642.59 L284.28 642.48 L286.28 642.37 L288.28 642.26 L290.28 642.16 L292.28 642.05 L294.28 641.94 L296.28 641.84 L298.28 641.74 L300.28 641.64 L302.28 641.54 L304.28 641.45 L306.28 641.35 L308.28 641.26 L310.28 641.16 L312.28 641.07 L314.28 640.99 L316.28 640.90 L318.28 640.81 L320.28 640.73 L322.28 640.65 L324.28 640.57 L326.28 640.49 L328.28 640.41 L330.28 640.33 L332.28 640.26 L334.28 640.19 L336.28 640.12 L338.28 640.05 L340.28 639.98 L342.28 639.92 L344.28 639.85 L346.28 639.79 L348.28 639.73 L350.28 639.67 L352.28 639.62 L354.28 639.56 L356.28 639.51 L358.28 639.46 L360.28 639.41 L362.28 639.36 L364.28 639.32 L366.28 639.27 L368.28 639.23 L370.28 639.19 L372.28 639.15 L374.28 639.12 L376.28 639.08 L378.28 639.05 L380.28 639.02 L382.28 638.99 L384.28 638.96 L386.28 638.94 L388.28 638.92 L390.28 638.89 L392.28 638.88 L394.28 638.86 L396.28 638.84 L398.28 638.83 L400.28 638.82 L402.28 638.81 L404.28 638.80 L406.28 638.80 L408.28 638.80 L410.28 638.80 L412.28 638.80 L414.28 638.80 L416.28 638.81 L418.28 638.81 L420.28 638.82 L422.28 638.84 L424.28 638.85 L426.28 638.87 L428.28 638.88 L430.28 638.90 L432.00 638.92" fill="none" stroke="#0f4586" stroke-width="1.6" stroke-linejoin="round" stroke-linecap="round"/>
</svg></body></html>
